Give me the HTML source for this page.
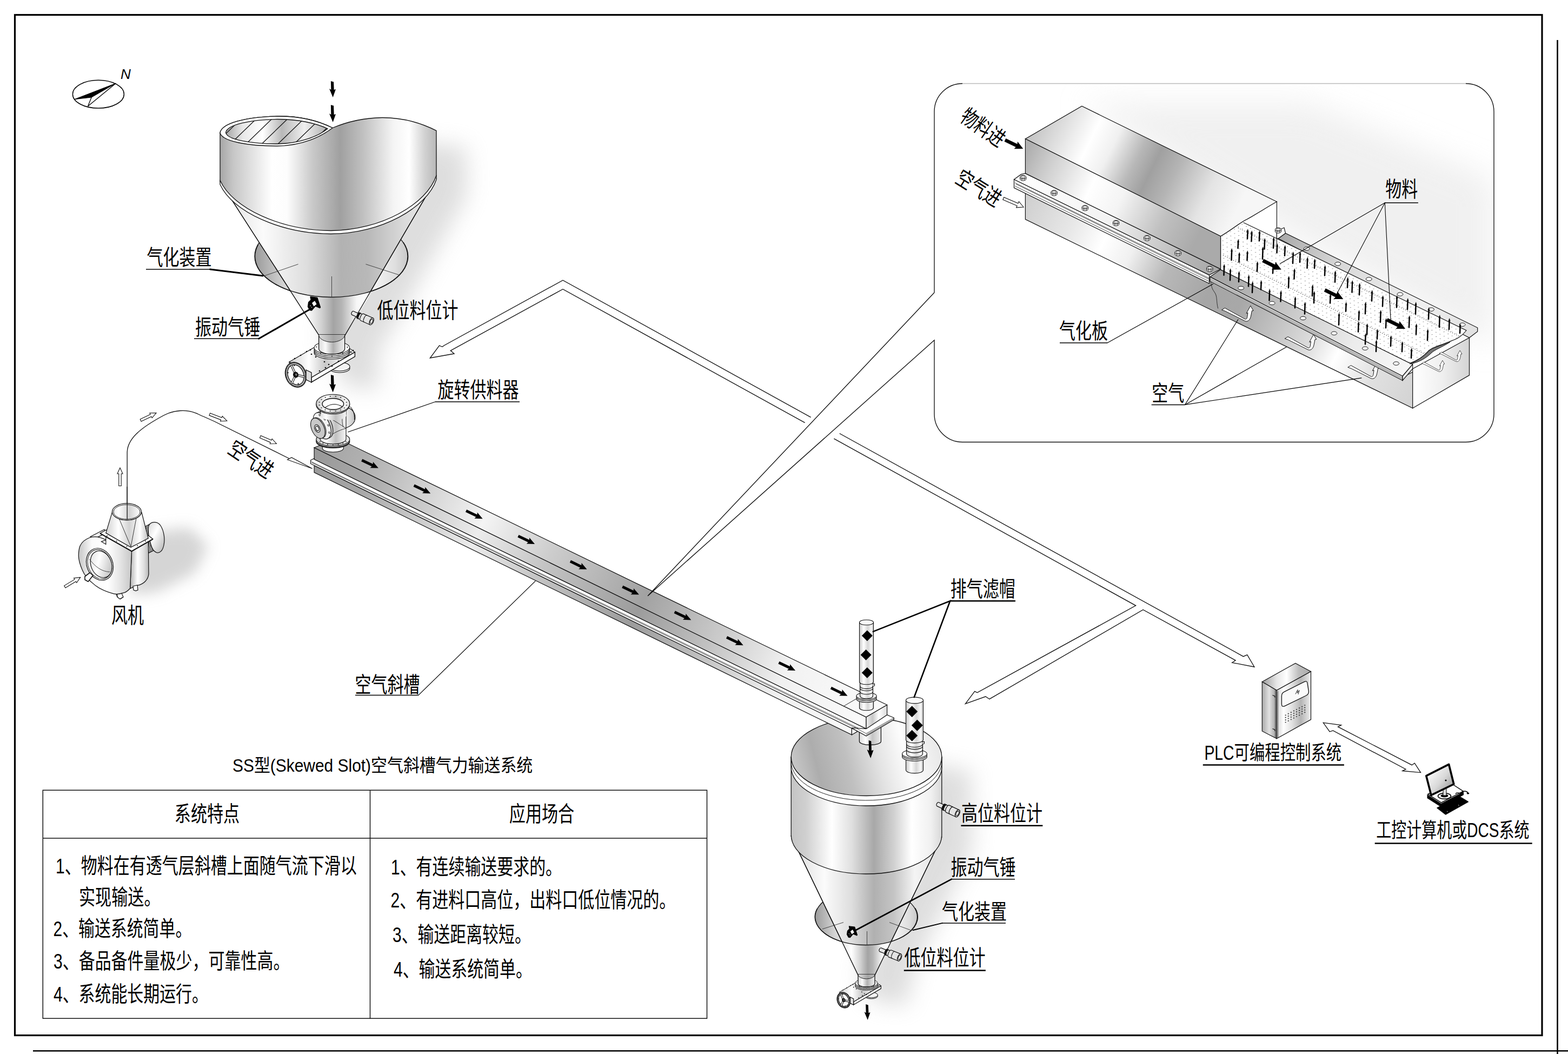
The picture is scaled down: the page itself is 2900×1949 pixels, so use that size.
<!DOCTYPE html>
<html lang="zh"><head><meta charset="utf-8"><title>SS型(Skewed Slot)空气斜槽气力输送系统</title>
<style>html,body{margin:0;padding:0;background:#fff}body{width:2900px;height:1949px;overflow:hidden;font-family:"Liberation Sans","Noto Sans CJK SC",sans-serif}svg{display:block}text{font-family:"Liberation Sans","Noto Sans CJK SC",sans-serif}</style>
</head><body>
<svg width="2900" height="1949" viewBox="0 0 2900 1949">
<defs>
<filter id="blur12" x="-40%" y="-40%" width="180%" height="180%"><feGaussianBlur stdDeviation="13"/></filter>
<filter id="blur18" x="-40%" y="-40%" width="180%" height="180%"><feGaussianBlur stdDeviation="20"/></filter>
<filter id="blur6" x="-40%" y="-40%" width="180%" height="180%"><feGaussianBlur stdDeviation="7"/></filter>
<linearGradient id="g1" x1="471" y1="0" x2="754" y2="0" gradientUnits="userSpaceOnUse"><stop offset="0" stop-color="#9a9a9a"/><stop offset="0.2" stop-color="#d6d6d6"/><stop offset="0.4" stop-color="#f2f2f2"/><stop offset="0.78" stop-color="#f4f4f4"/><stop offset="0.92" stop-color="#dedede"/><stop offset="1" stop-color="#c8c8c8"/></linearGradient>
<linearGradient id="g2" x1="407" y1="0" x2="807" y2="0" gradientUnits="userSpaceOnUse"><stop offset="0" stop-color="#dcdcdc"/><stop offset="0.2" stop-color="#fbfbfb"/><stop offset="0.4" stop-color="#dedede"/><stop offset="0.56" stop-color="#b2b2b2"/><stop offset="0.68" stop-color="#b8b8b8"/><stop offset="0.85" stop-color="#dadada"/><stop offset="1" stop-color="#f0f0f0"/></linearGradient>
<linearGradient id="g3" x1="537" y1="0" x2="690" y2="0" gradientUnits="userSpaceOnUse"><stop offset="0" stop-color="#e4e4e4"/><stop offset="0.2" stop-color="#ffffff"/><stop offset="0.38" stop-color="#d0d0d0"/><stop offset="0.52" stop-color="#a4a4a4"/><stop offset="0.62" stop-color="#b4b4b4"/><stop offset="0.8" stop-color="#f6f6f6"/><stop offset="0.92" stop-color="#ffffff"/><stop offset="1" stop-color="#d4d4d4"/></linearGradient>
<linearGradient id="g4" x1="535" y1="0" x2="656" y2="0" gradientUnits="userSpaceOnUse"><stop offset="0" stop-color="#d0d0d0"/><stop offset="0.3" stop-color="#ffffff"/><stop offset="0.55" stop-color="#c9c9c9"/><stop offset="0.8" stop-color="#f4f4f4"/><stop offset="1" stop-color="#d8d8d8"/></linearGradient>
<linearGradient id="g5" x1="590" y1="0" x2="638" y2="0" gradientUnits="userSpaceOnUse"><stop offset="0" stop-color="#dadada"/><stop offset="0.25" stop-color="#fafafa"/><stop offset="0.55" stop-color="#b0b0b0"/><stop offset="0.8" stop-color="#d8d8d8"/><stop offset="1" stop-color="#eeeeee"/></linearGradient>
<linearGradient id="g6" x1="407" y1="0" x2="807" y2="0" gradientUnits="userSpaceOnUse"><stop offset="0" stop-color="#a6a6a6"/><stop offset="0.06" stop-color="#c6c6c6"/><stop offset="0.24" stop-color="#ffffff"/><stop offset="0.31" stop-color="#fdfdfd"/><stop offset="0.43" stop-color="#c8c8c8"/><stop offset="0.555" stop-color="#a0a0a0"/><stop offset="0.66" stop-color="#c0c0c0"/><stop offset="0.8" stop-color="#f4f4f4"/><stop offset="0.875" stop-color="#ffffff"/><stop offset="0.945" stop-color="#d2d2d2"/><stop offset="1" stop-color="#b8b8b8"/></linearGradient>
<linearGradient id="g7" x1="407" y1="0" x2="615" y2="0" gradientUnits="userSpaceOnUse"><stop offset="0" stop-color="#8e8e8e"/><stop offset="0.2" stop-color="#e8e8e8"/><stop offset="0.38" stop-color="#ffffff"/><stop offset="0.55" stop-color="#b8b8b8"/><stop offset="0.75" stop-color="#f0f0f0"/><stop offset="1" stop-color="#a0a0a0"/></linearGradient>
<clipPath id="hopen"><path d="M417.5 245 C420 231 462 221 513 220.5 C552 220.5 585 228 606 238 C590 251 556 265.5 513 266 C464 266 419 258 417.5 245Z"/></clipPath>
<linearGradient id="g8" x1="0" y1="0" x2="1" y2="1"><stop offset="0" stop-color="#d8d8d8"/><stop offset="0.4" stop-color="#ffffff"/><stop offset="1" stop-color="#b0b0b0"/></linearGradient>
<linearGradient id="g9" x1="243" y1="0" x2="276" y2="0" gradientUnits="userSpaceOnUse"><stop offset="0" stop-color="#c0c0c0"/><stop offset="0.35" stop-color="#ffffff"/><stop offset="0.7" stop-color="#e0e0e0"/><stop offset="1" stop-color="#b4b4b4"/></linearGradient>
<linearGradient id="g10" x1="145" y1="0" x2="244" y2="0" gradientUnits="userSpaceOnUse"><stop offset="0" stop-color="#c4c4c4"/><stop offset="0.25" stop-color="#fafafa"/><stop offset="0.55" stop-color="#ffffff"/><stop offset="0.8" stop-color="#e2e2e2"/><stop offset="1" stop-color="#c6c6c6"/></linearGradient>
<linearGradient id="g11" x1="195" y1="0" x2="275" y2="0" gradientUnits="userSpaceOnUse"><stop offset="0" stop-color="#cfcfcf"/><stop offset="0.3" stop-color="#ffffff"/><stop offset="0.55" stop-color="#d2d2d2"/><stop offset="0.8" stop-color="#ffffff"/><stop offset="1" stop-color="#bcbcbc"/></linearGradient>
<linearGradient id="g12" x1="1507" y1="0" x2="1697" y2="0" gradientUnits="userSpaceOnUse"><stop offset="0" stop-color="#9a9a9a"/><stop offset="0.2" stop-color="#d6d6d6"/><stop offset="0.4" stop-color="#f2f2f2"/><stop offset="0.78" stop-color="#f4f4f4"/><stop offset="0.92" stop-color="#dedede"/><stop offset="1" stop-color="#c8c8c8"/></linearGradient>
<linearGradient id="g13" x1="1463.2" y1="0" x2="1741.8" y2="0" gradientUnits="userSpaceOnUse"><stop offset="0" stop-color="#d8d8d8"/><stop offset="0.22" stop-color="#fbfbfb"/><stop offset="0.4" stop-color="#dedede"/><stop offset="0.55" stop-color="#b0b0b0"/><stop offset="0.68" stop-color="#c4c4c4"/><stop offset="0.82" stop-color="#f4f4f4"/><stop offset="1" stop-color="#e0e0e0"/></linearGradient>
<linearGradient id="g14" x1="1556" y1="0" x2="1650" y2="0" gradientUnits="userSpaceOnUse"><stop offset="0" stop-color="#e4e4e4"/><stop offset="0.2" stop-color="#ffffff"/><stop offset="0.38" stop-color="#d0d0d0"/><stop offset="0.52" stop-color="#a4a4a4"/><stop offset="0.62" stop-color="#b4b4b4"/><stop offset="0.8" stop-color="#f6f6f6"/><stop offset="0.92" stop-color="#ffffff"/><stop offset="1" stop-color="#d4d4d4"/></linearGradient>
<linearGradient id="g15" x1="535" y1="0" x2="656" y2="0" gradientUnits="userSpaceOnUse"><stop offset="0" stop-color="#d0d0d0"/><stop offset="0.3" stop-color="#ffffff"/><stop offset="0.55" stop-color="#c9c9c9"/><stop offset="0.8" stop-color="#f4f4f4"/><stop offset="1" stop-color="#d8d8d8"/></linearGradient>
<linearGradient id="g16" x1="1587" y1="0" x2="1618" y2="0" gradientUnits="userSpaceOnUse"><stop offset="0" stop-color="#dadada"/><stop offset="0.25" stop-color="#fafafa"/><stop offset="0.55" stop-color="#b0b0b0"/><stop offset="0.8" stop-color="#d8d8d8"/><stop offset="1" stop-color="#eeeeee"/></linearGradient>
<linearGradient id="g17" x1="1463.2" y1="0" x2="1741.8" y2="0" gradientUnits="userSpaceOnUse"><stop offset="0" stop-color="#c4c4c4"/><stop offset="0.1" stop-color="#d0d0d0"/><stop offset="0.27" stop-color="#ffffff"/><stop offset="0.4" stop-color="#e0e0e0"/><stop offset="0.55" stop-color="#a8a8a8"/><stop offset="0.68" stop-color="#d0d0d0"/><stop offset="0.8" stop-color="#ffffff"/><stop offset="0.93" stop-color="#f0f0f0"/><stop offset="1" stop-color="#d8d8d8"/></linearGradient>
<linearGradient id="g18" x1="1463.2" y1="1440" x2="1741.8" y2="1370" gradientUnits="userSpaceOnUse"><stop offset="0" stop-color="#cdcdcd"/><stop offset="0.18" stop-color="#adadad"/><stop offset="0.38" stop-color="#c0c0c0"/><stop offset="0.58" stop-color="#e4e4e4"/><stop offset="0.75" stop-color="#fcfcfc"/><stop offset="1" stop-color="#e6e6e6"/></linearGradient>
<linearGradient id="g19" x1="1589" y1="0" x2="1630" y2="0" gradientUnits="userSpaceOnUse"><stop offset="0" stop-color="#dcdcdc"/><stop offset="0.3" stop-color="#ffffff"/><stop offset="0.6" stop-color="#c4c4c4"/><stop offset="1" stop-color="#eeeeee"/></linearGradient>
<linearGradient id="g20" x1="581" y1="828" x2="1602" y2="1326" gradientUnits="userSpaceOnUse"><stop offset="0" stop-color="#a2a2a2"/><stop offset="0.1" stop-color="#b4b4b4"/><stop offset="0.3" stop-color="#f4f4f4"/><stop offset="0.42" stop-color="#cdcdcd"/><stop offset="0.59" stop-color="#a2a2a2"/><stop offset="0.7" stop-color="#c2c2c2"/><stop offset="0.85" stop-color="#f2f2f2"/><stop offset="1" stop-color="#fafafa"/></linearGradient>
<linearGradient id="g21" x1="581" y1="828" x2="1602" y2="1326" gradientUnits="userSpaceOnUse"><stop offset="0" stop-color="#989898"/><stop offset="0.1" stop-color="#a8a8a8"/><stop offset="0.3" stop-color="#ececec"/><stop offset="0.42" stop-color="#c4c4c4"/><stop offset="0.59" stop-color="#9c9c9c"/><stop offset="0.7" stop-color="#bcbcbc"/><stop offset="0.85" stop-color="#f0f0f0"/><stop offset="1" stop-color="#fafafa"/></linearGradient>
<linearGradient id="g22" x1="1602" y1="0" x2="1641" y2="0" gradientUnits="userSpaceOnUse"><stop offset="0" stop-color="#f0f0f0"/><stop offset="0.3" stop-color="#c8c8c8"/><stop offset="0.6" stop-color="#ffffff"/><stop offset="1" stop-color="#d8d8d8"/></linearGradient>
<linearGradient id="g23" x1="585" y1="0" x2="657" y2="0" gradientUnits="userSpaceOnUse"><stop offset="0" stop-color="#c8c8c8"/><stop offset="0.25" stop-color="#ffffff"/><stop offset="0.5" stop-color="#c0c0c0"/><stop offset="0.75" stop-color="#f4f4f4"/><stop offset="1" stop-color="#bdbdbd"/></linearGradient>
<linearGradient id="g24" x1="1589.5" y1="0" x2="1615.5" y2="0" gradientUnits="userSpaceOnUse"><stop offset="0" stop-color="#c8c8c8"/><stop offset="0.3" stop-color="#ffffff"/><stop offset="0.6" stop-color="#d6d6d6"/><stop offset="0.85" stop-color="#f8f8f8"/><stop offset="1" stop-color="#c0c0c0"/></linearGradient>
<linearGradient id="g25" x1="1675.5" y1="0" x2="1707.5" y2="0" gradientUnits="userSpaceOnUse"><stop offset="0" stop-color="#c8c8c8"/><stop offset="0.3" stop-color="#ffffff"/><stop offset="0.6" stop-color="#d6d6d6"/><stop offset="0.85" stop-color="#f8f8f8"/><stop offset="1" stop-color="#c0c0c0"/></linearGradient>
<filter id="blur30" x="-30%" y="-30%" width="160%" height="160%"><feGaussianBlur stdDeviation="28"/></filter>
<clipPath id="insetclip"><rect x="1729" y="155.5" width="1033" height="661" rx="51"/></clipPath>
<linearGradient id="g26" x1="1896" y1="380" x2="2612.935483870968" y2="731.2983870967741" gradientUnits="userSpaceOnUse"><stop offset="0" stop-color="#d0d0d0"/><stop offset="0.12" stop-color="#e8e8e8"/><stop offset="0.2" stop-color="#ffffff"/><stop offset="0.27" stop-color="#f0f0f0"/><stop offset="0.36" stop-color="#b8b8b8"/><stop offset="0.47" stop-color="#a6a6a6"/><stop offset="0.55" stop-color="#a8a8a8"/><stop offset="0.65" stop-color="#c4c4c4"/><stop offset="0.73" stop-color="#dcdcdc"/><stop offset="0.8" stop-color="#ffffff"/><stop offset="0.9" stop-color="#e0e0e0"/><stop offset="1" stop-color="#d4d4d4"/></linearGradient>
<linearGradient id="g27" x1="2613" y1="0" x2="2718" y2="0" gradientUnits="userSpaceOnUse"><stop offset="0" stop-color="#ffffff"/><stop offset="0.5" stop-color="#f0f0f0"/><stop offset="1" stop-color="#d4d4d4"/></linearGradient>
<linearGradient id="g28" x1="1875" y1="335" x2="2258.064516129032" y2="522.7016129032259" gradientUnits="userSpaceOnUse"><stop offset="0" stop-color="#ffffff"/><stop offset="0.45" stop-color="#f2f2f2"/><stop offset="0.8" stop-color="#b8b8b8"/><stop offset="1" stop-color="#a4a4a4"/></linearGradient>
<linearGradient id="g29" x1="2237" y1="515" x2="2612.8064516129034" y2="699.1451612903226" gradientUnits="userSpaceOnUse"><stop offset="0" stop-color="#a2a2a2"/><stop offset="0.35" stop-color="#c4c4c4"/><stop offset="0.7" stop-color="#ececec"/><stop offset="1" stop-color="#f8f8f8"/></linearGradient>
<linearGradient id="g30" x1="2364" y1="436" x2="2733.3548387096776" y2="616.983870967742" gradientUnits="userSpaceOnUse"><stop offset="0" stop-color="#a8a8a8"/><stop offset="0.3" stop-color="#d8d8d8"/><stop offset="0.7" stop-color="#f0f0f0"/><stop offset="1" stop-color="#e0e0e0"/></linearGradient>
<linearGradient id="g31" x1="1896" y1="240" x2="2271.0" y2="423.75" gradientUnits="userSpaceOnUse"><stop offset="0" stop-color="#bdbdbd"/><stop offset="0.1" stop-color="#d4d4d4"/><stop offset="0.28" stop-color="#ffffff"/><stop offset="0.38" stop-color="#f0f0f0"/><stop offset="0.5" stop-color="#b8b8b8"/><stop offset="0.58" stop-color="#a0a0a0"/><stop offset="0.68" stop-color="#b4b4b4"/><stop offset="0.85" stop-color="#e4e4e4"/><stop offset="1" stop-color="#f6f6f6"/></linearGradient>
<linearGradient id="g32" x1="1896" y1="290" x2="2212.1290322580644" y2="444.9032258064516" gradientUnits="userSpaceOnUse"><stop offset="0" stop-color="#b0b0b0"/><stop offset="0.12" stop-color="#cccccc"/><stop offset="0.38" stop-color="#ffffff"/><stop offset="0.55" stop-color="#f4f4f4"/><stop offset="0.8" stop-color="#c0c0c0"/><stop offset="1" stop-color="#aaaaaa"/></linearGradient>
<clipPath id="matclip"><path d="M2257.5 436.8 C2280 424 2295 410 2306.6 405.2 C2330 392 2345 382 2361.4 373 L2361.4 441 L2712 611 C2700 626 2690 628 2680 632 C2660 640 2650 642 2643 648 C2632 660 2620 668 2607.6 671.5 L2257.5 498.6Z"/></clipPath>
<pattern id="matdots" width="7.6" height="7.6" patternUnits="userSpaceOnUse" patternTransform="matrix(1 0.49 0.95 -0.58 2262 494)"><circle cx="1" cy="1" r="0.62" fill="#444"/></pattern>
<linearGradient id="g33" x1="2334" y1="0" x2="2425" y2="0" gradientUnits="userSpaceOnUse"><stop offset="0" stop-color="#9a9a9a"/><stop offset="0.3" stop-color="#e6e6e6"/><stop offset="0.5" stop-color="#ffffff"/><stop offset="0.75" stop-color="#bdbdbd"/><stop offset="1" stop-color="#a8a8a8"/></linearGradient>
<linearGradient id="g34" x1="2334" y1="0" x2="2361" y2="0" gradientUnits="userSpaceOnUse"><stop offset="0" stop-color="#a8a8a8"/><stop offset="0.5" stop-color="#e2e2e2"/><stop offset="1" stop-color="#9c9c9c"/></linearGradient>
<linearGradient id="g35" x1="2361" y1="0" x2="2425" y2="0" gradientUnits="userSpaceOnUse"><stop offset="0" stop-color="#d0d0d0"/><stop offset="0.2" stop-color="#ffffff"/><stop offset="0.45" stop-color="#e0e0e0"/><stop offset="0.7" stop-color="#b4b4b4"/><stop offset="0.88" stop-color="#d8d8d8"/><stop offset="1" stop-color="#f0f0f0"/></linearGradient>
<linearGradient id="g36" x1="2640" y1="1425" x2="2690" y2="1465" gradientUnits="userSpaceOnUse"><stop offset="0" stop-color="#ffffff"/><stop offset="0.5" stop-color="#d8d8d8"/><stop offset="1" stop-color="#8a8a8a"/></linearGradient>
</defs>
<rect width="2900" height="1949" fill="#fff"/>
<rect x="27.5" y="27.5" width="2824.5" height="1887" fill="none" stroke="#000" stroke-width="3.2"/>
<line x1="2880.5" y1="74" x2="2880.5" y2="1949" stroke="#000" stroke-width="2.6"/>
<line x1="61" y1="1943.2" x2="2900" y2="1943.2" stroke="#000" stroke-width="2.6"/>
<g fill="none" stroke="#111" stroke-width="1.5"><rect x="79.3" y="1461.2" width="1228.2" height="422"/><line x1="79.3" y1="1550" x2="1307.5" y2="1550"/><line x1="684.5" y1="1461.2" x2="684.5" y2="1883.2"/></g>
<text x="430.0" y="1426.5" font-size="33.5" text-anchor="start" textLength="555.3" lengthAdjust="spacingAndGlyphs" fill="#000">SS型(Skewed Slot)空气斜槽气力输送系统</text>
<text x="383.0" y="1518.5" font-size="39.5" text-anchor="middle" textLength="120.4" lengthAdjust="spacingAndGlyphs" fill="#000">系统特点</text>
<text x="1002.0" y="1518.5" font-size="39.5" text-anchor="middle" textLength="120.4" lengthAdjust="spacingAndGlyphs" fill="#000">应用场合</text>
<text x="103.0" y="1615.0" font-size="39.5" text-anchor="start" textLength="556.8" lengthAdjust="spacingAndGlyphs" fill="#000">1、物料在有透气层斜槽上面随气流下滑以</text>
<text x="146.0" y="1673.0" font-size="39.5" text-anchor="start" textLength="150.5" lengthAdjust="spacingAndGlyphs" fill="#000">实现输送。</text>
<text x="98.5" y="1730.5" font-size="39.5" text-anchor="start" textLength="255.8" lengthAdjust="spacingAndGlyphs" fill="#000">2、输送系统简单。</text>
<text x="99.0" y="1791.0" font-size="39.5" text-anchor="start" textLength="436.4" lengthAdjust="spacingAndGlyphs" fill="#000">3、备品备件量极少，可靠性高。</text>
<text x="99.0" y="1852.0" font-size="39.5" text-anchor="start" textLength="285.9" lengthAdjust="spacingAndGlyphs" fill="#000">4、系统能长期运行。</text>
<text x="723.0" y="1617.0" font-size="39.5" text-anchor="start" textLength="316.0" lengthAdjust="spacingAndGlyphs" fill="#000">1、有连续输送要求的。</text>
<text x="722.5" y="1678.0" font-size="39.5" text-anchor="start" textLength="526.7" lengthAdjust="spacingAndGlyphs" fill="#000">2、有进料口高位，出料口低位情况的。</text>
<text x="726.0" y="1742.0" font-size="39.5" text-anchor="start" textLength="255.8" lengthAdjust="spacingAndGlyphs" fill="#000">3、输送距离较短。</text>
<text x="728.0" y="1806.0" font-size="39.5" text-anchor="start" textLength="255.8" lengthAdjust="spacingAndGlyphs" fill="#000">4、输送系统简单。</text>
<path d="M760 262 L862 272 L864 360 L745 575 L700 650 L700 720 L640 715 L600 640 L600 600 L760 340Z" fill="#b8b8b8" filter="url(#blur18)" opacity="0.46"/>
<ellipse cx="612.5" cy="474" rx="141.5" ry="75.5" fill="url(#g1)" stroke="#111" stroke-width="1.3"/>
<path d="M407 336 L590 620 L638 620 L807 330 Z" fill="url(#g2)" stroke="#111" stroke-width="1.3"/>
<path d="M536.5 537.5 A141.5 75.5 0 0 0 612.5 549.5 A141.5 75.5 0 0 0 689.5 537 L638 620 L590 620 Z" fill="url(#g3)"/>
<path d="M407 336 L590 620 M638 620 L807 330" fill="none" stroke="#111" stroke-width="1.3"/>
<path d="M477.5 452.5 A141.5 75.5 0 0 0 612.5 549.5 A141.5 75.5 0 0 0 746 448" fill="none" stroke="#111" stroke-width="1.3"/>
<g stroke="#333" stroke-width="0.9" fill="none"><path d="M489 510 L551.5 488.5"/><path d="M676.5 488.5 L740 509"/><path d="M613.5 511 L613.5 549.5"/></g>
<g transform="translate(0,0) scale(1.0)"><ellipse cx="628" cy="681" rx="19" ry="8" fill="#e8e8e8" stroke="#111" stroke-width="1.1"/><ellipse cx="628" cy="678" rx="19" ry="8" fill="#f4f4f4" stroke="#111" stroke-width="1.1"/><path d="M535 669.3 L615.4 622.4 L656.4 651.1 L576 698Z" fill="url(#g4)" stroke="#111" stroke-width="1.1"/><path d="M576 698 L656.4 651.1 L656.4 659.3 L576 706.7Z" fill="#fff" stroke="#111" stroke-width="1.4"/><path d="M535 669.3 L576 698 L576 706.7 L569 703 L569 700 L535 676Z" fill="#eee" stroke="#111" stroke-width="1.1"/><g fill="#111"><circle cx="545" cy="663" r="1.35"/><circle cx="556" cy="657" r="1.35"/><circle cx="567" cy="650" r="1.35"/><circle cx="574" cy="647" r="1.35"/><circle cx="576" cy="655" r="1.35"/><circle cx="584" cy="660" r="1.35"/><circle cx="600" cy="669" r="1.35"/><circle cx="608" cy="674" r="1.35"/><circle cx="614" cy="677" r="1.35"/><circle cx="602" cy="680" r="1.35"/><circle cx="591" cy="686" r="1.35"/><circle cx="575" cy="694" r="1.35"/><circle cx="572" cy="691" r="1.35"/><circle cx="649" cy="651" r="1.35"/><circle cx="653" cy="648" r="1.35"/><circle cx="626" cy="668" r="1.35"/></g><ellipse cx="613.8" cy="652" rx="32.8" ry="12" fill="#f2f2f2" stroke="#111" stroke-width="1.1"/><ellipse cx="613.8" cy="649" rx="32.8" ry="12" fill="#f6f6f6" stroke="#111" stroke-width="1.1"/><ellipse cx="613.8" cy="646" rx="32.8" ry="12" fill="#fafafa" stroke="#111" stroke-width="1.1"/><ellipse cx="613.8" cy="643" rx="32.8" ry="12" fill="#ffffff" stroke="#111" stroke-width="1.1"/><g fill="#111"><circle cx="585" cy="641.5" r="1"/><circle cx="593" cy="653" r="1"/><circle cx="614" cy="658.5" r="1"/><circle cx="634" cy="653.5" r="1"/><circle cx="642.5" cy="642" r="1"/></g><g transform="translate(547 693) rotate(-22)"><ellipse rx="18.6" ry="23.4" fill="#fff" stroke="#111" stroke-width="1.7"/><ellipse rx="17" ry="21.8" fill="none" stroke="#111" stroke-width="0.8"/><ellipse rx="14.6" ry="19.4" fill="#fff" stroke="#111" stroke-width="1.5"/><path d="M0 0 L-1 -19.5 M0 0 L-13.5 12.5 M0 0 L14 10" stroke="#111" stroke-width="4" fill="none"/><path d="M0 0 L-1 -19 M0 0 L-13 12 M0 0 L13.5 9.6" stroke="#fff" stroke-width="1.8" fill="none"/><ellipse rx="5" ry="5.6" fill="#111"/><ellipse cx="0.8" cy="0" rx="1.8" ry="2.1" fill="#777"/><g fill="#111"><circle cx="-12" cy="-9" r="1.2"/><circle cx="4" cy="-17" r="1.2"/><circle cx="-2" cy="17" r="1.2"/></g></g><path d="M566 684 L576 689 L576 707 L566 702Z" fill="#ddd" stroke="#111" stroke-width="1.3"/></g>
<path d="M589.6 619 L589.6 645 A24 10 0 0 0 637.6 645 L637.6 619 Z" fill="url(#g5)" stroke="#111" stroke-width="1.3"/>
<path d="M589.6 619 A24 13.5 0 0 0 637.6 619" fill="url(#g3)" stroke="#222" stroke-width="1"/>
<g transform="translate(581,566) scale(1.15)"><path d="M-6 -15 L5 -13.5 L10 2 L9 3 L2 0 L-4 7 L-7 6.5 L-10 1 L-9 -6 L-5 -10 Z" fill="#000" stroke="#000" stroke-width="1.2" stroke-linejoin="round"/><path d="M-3.5 -5 L1 -8.5 L4 -3 L-0.5 0.5Z" fill="#fff"/><circle cx="-6" cy="-0.5" r="0.8" fill="#bbb"/><circle cx="-4" cy="2" r="0.8" fill="#bbb"/></g>
<g transform="translate(650.5,578) rotate(24) scale(1.0)"><path d="M2 -3.6 L14 -3.6 L14 3.6 L2 3.6 A2.2 3.6 0 0 1 2 -3.6Z" fill="#e6e6e6" stroke="#111" stroke-width="1.2"/><path d="M13 -6.2 L16.5 -6.2 L16.5 6.2 L13 6.2 A2.6 6.2 0 0 1 13 -6.2Z" fill="#111"/><path d="M16.5 -5.2 L22 -5.2 L22 5.2 L16.5 5.2 A2.2 5.2 0 0 1 16.5 -5.2Z" fill="#e0e0e0" stroke="#111" stroke-width="1.2"/><path d="M21 -6.8 L40 -6.8 A3.4 6.8 0 0 1 40 6.8 L21 6.8 A3 6.8 0 0 1 21 -6.8Z" fill="#e4e4e4" stroke="#111" stroke-width="1.2"/><path d="M28 -6.8 A3 6.8 0 0 0 28 6.8" fill="none" stroke="#111" stroke-width="1.2"/><ellipse cx="40" cy="0" rx="3.4" ry="6.8" fill="#efefef" stroke="#111" stroke-width="1.2"/><ellipse cx="40" cy="0" rx="2.1" ry="4.2" fill="#f8f8f8" stroke="#111" stroke-width="1"/></g>
<path d="M611.9 693.0 L617.1 694.5 L617.7 711.5 L621.0 710.5 L615.7 725.5 L609.0 709.5 L612.3 711.5Z" fill="#000"/>
<path d="M611.9 150.0 L617.1 151.5 L617.7 166.0 L621.0 165.0 L615.7 180.0 L609.0 164.0 L612.3 166.0Z" fill="#000"/>
<path d="M611.9 194.0 L617.1 195.5 L617.7 212.0 L621.0 211.0 L615.7 226.0 L609.0 210.0 L612.3 212.0Z" fill="#000"/>
<path d="M407 333.4 L407 341 C430 392 520 432 612 432.5 C705 432 790 384 807 332 L807 324.5 Z" fill="#fff" stroke="#111" stroke-width="1.3"/>
<path d="M407 246 C409 228 455 216 513 215 C555 214.5 590 224 615 236.5 C640 226 672 218 707 217.5 C745 217.5 780 228 807 241.6 L807 324.5 C790 377 705 426 612 426.5 C520 426 430 385 407 333.4 Z" fill="url(#g6)" stroke="#111" stroke-width="1.3"/>
<path d="M407 246 C409 228 455 216 513 215 C555 214.5 590 224 615 236.5 C595 252 560 269.5 513 270 C460 270 412 262 407 246Z" fill="#fff" stroke="#111" stroke-width="1.3"/>
<path d="M417.5 245 C420 231 462 221 513 220.5 C552 220.5 585 228 606 238 C590 251 556 265.5 513 266 C464 266 419 258 417.5 245Z" fill="url(#g7)" stroke="#111" stroke-width="1.3"/>
<g clip-path="url(#hopen)" stroke="#111" stroke-width="1.3"><path d="M392 272 L454 212"/><path d="M420 272 L482 212"/><path d="M449 272 L511 212"/><path d="M478 272 L540 212"/><path d="M508 272 L570 212"/><path d="M538 272 L600 212"/><path d="M568 272 L630 212"/></g>
<path d="M270 985 L350 975 L385 1010 L360 1060 L290 1095 L240 1100 L250 1040Z" fill="#c8c8c8" filter="url(#blur12)" opacity="0.75"/>
<path d="M235.2 960 L235.2 836 C236 812 258 792 303 768 C320 759 345 755 367 766 C380 772 392 777 399 780.5 L535 848" fill="none" stroke="#111" stroke-width="1.3"/>
<path d="M531.4 850 L539.3 845.9 L577.6 866.6Z" fill="#fff" stroke="#111" stroke-width="1.1"/>
<path transform="translate(222.0,865.0) rotate(-90.0)" d="M0 0 L-11 -5.0 L-11 -2.25 L-33.5 -2.25 L-33.5 2.25 L-11 2.25 L-11 5.0Z" fill="#fff" stroke="#111" stroke-width="1.1" stroke-linejoin="miter"/>
<path transform="translate(289.0,763.6) rotate(-25.4)" d="M0 0 L-11 -5.0 L-11 -2.25 L-31.9 -2.25 L-31.9 2.25 L-11 2.25 L-11 5.0Z" fill="#fff" stroke="#111" stroke-width="1.1" stroke-linejoin="miter"/>
<path transform="translate(419.7,778.2) rotate(20.9)" d="M0 0 L-11 -5.0 L-11 -2.25 L-34.2 -2.25 L-34.2 2.25 L-11 2.25 L-11 5.0Z" fill="#fff" stroke="#111" stroke-width="1.1" stroke-linejoin="miter"/>
<path transform="translate(511.3,820.4) rotate(23.1)" d="M0 0 L-11 -5.0 L-11 -2.25 L-32.6 -2.25 L-32.6 2.25 L-11 2.25 L-11 5.0Z" fill="#fff" stroke="#111" stroke-width="1.1" stroke-linejoin="miter"/>
<path transform="translate(148.6,1067.6) rotate(-31.2)" d="M0 0 L-11 -5.0 L-11 -2.25 L-33.6 -2.25 L-33.6 2.25 L-11 2.25 L-11 5.0Z" fill="#fff" stroke="#111" stroke-width="1.1" stroke-linejoin="miter"/>
<path d="M266 975 L282 966.5 L296 1012 L272 1024 Z" fill="#e8e8e8" stroke="#111" stroke-width="1.2"/>
<g stroke="#111" stroke-width="1"><path d="M268.0 974.5 L273.0 1023.5"/><path d="M270.2 973.4 L275.2 1022.3"/><path d="M272.4 972.3 L277.4 1021.1"/><path d="M274.6 971.2 L279.6 1019.9"/><path d="M276.8 970.1 L281.8 1018.7"/><path d="M279.0 969.0 L284.0 1017.5"/><path d="M281.2 967.9 L286.2 1016.3"/><path d="M283.4 966.8 L288.4 1015.1"/><path d="M285.6 965.7 L290.6 1013.9"/></g>
<path d="M275 972 C279 964 291 963 297 972 C304 983 305 998 303 1008 C301 1018 296 1023 290 1022 C284 1020 280 1012 278 1003 C275 992 273 980 275 972Z" fill="url(#g8)" stroke="#111" stroke-width="1.2"/>
<path d="M243.5 1019.3 L274.3 1001 L275 1061.4 C274 1072 266 1080 254.7 1082.4 L240.7 1088 Z" fill="url(#g9)" stroke="#111" stroke-width="1.2"/>
<path d="M246 1084 L254 1082 L255 1091 L251 1092.5 L247 1091Z" fill="#fff" stroke="#111" stroke-width="1.2"/>
<path d="M211 1088 L220 1086 L228 1104 L222 1107.7 L217 1104 Z" fill="#fff" stroke="#111" stroke-width="1.2"/><path d="M217 1104 L216.5 1090 M222 1107.7 L228 1104" fill="none" stroke="#111" stroke-width="1.2"/>
<path d="M167 992.5 L193 979 L196 985.6 L175 996Z" fill="#eee" stroke="#111" stroke-width="1.2"/>
<path d="M243.5 1019.3 L240.7 1088 C236 1093 232 1096 228 1096.4 C220 1099 214 1099 209.8 1097.8 C196 1094 185 1089 176.1 1082.4 C164 1073 156 1064 152.3 1054.3 C147 1042 145 1034 145.3 1026.3 C145.5 1019 146 1014 148 1009.4 C152 1001 158 997 166.3 994 C176 991 186 993 195.8 998.5 L195.8 1006.5 L187.5 1001.5 L195.8 998.5 L195.8 992.5 L243.5 1019.3Z" fill="url(#g10)" stroke="#111" stroke-width="1.2"/>
<g transform="translate(184.5 1043.5) rotate(-22)"><ellipse rx="24" ry="30.5" fill="#f4f4f4" stroke="#111" stroke-width="1.2"/><ellipse rx="21.5" ry="28" fill="none" stroke="#111" stroke-width="0.9"/><ellipse cx="2.5" cy="1" rx="19" ry="25.5" fill="url(#g8)" stroke="#111" stroke-width="1.2"/><path d="M-14 -16 C-10 0 -2 14 12 20" fill="none" stroke="#333" stroke-width="0.8"/></g>
<path d="M157 1066 L166 1059 L172 1064 L163 1075.4 L157 1072Z" fill="#fff" stroke="#111" stroke-width="1.6"/>
<path d="M185.2 986.3 L196 980 L243.5 1006 L274 990 L282.8 996.8 L243.5 1019.3Z" fill="#fff" stroke="#111" stroke-width="1.2"/>
<path d="M207.7 946.3 L195.8 985.6 L242 1012 L274.3 995.4 L261.7 946.3 A27 15.4 0 0 1 207.7 946.3Z" fill="url(#g11)" stroke="#111" stroke-width="1.2"/>
<path d="M185.2 986.3 L243.5 1019.3 L282.8 996.8" fill="none" stroke="#111" stroke-width="2"/>
<path d="M220.3 958.9 L242 1010.8 L251.9 958.9" fill="none" stroke="#222" stroke-width="0.9"/>
<ellipse cx="234.4" cy="946.3" rx="27" ry="15.4" fill="#f0f0f0" stroke="#111" stroke-width="1.2"/><ellipse cx="234.4" cy="946.6" rx="24.5" ry="13.4" fill="url(#g11)" stroke="#111" stroke-width="0.9"/>
<path d="M235.2 900 L235.2 960.3" stroke="#111" stroke-width="1.3"/>
<g fill="#222"><circle cx="198" cy="991" r="1"/><circle cx="215.6" cy="1000.5" r="1"/><circle cx="234.5" cy="1010.5" r="1"/><circle cx="254" cy="1009" r="1"/><circle cx="269" cy="1000.5" r="1"/></g>
<path d="M1700 1410 L1796 1425 L1798 1570 L1692 1790 L1676 1860 L1610 1850 L1590 1800 L1700 1560Z" fill="#b8b8b8" filter="url(#blur18)" opacity="0.46"/>
<ellipse cx="1602" cy="1695.5" rx="94.5" ry="52" fill="url(#g12)" stroke="#111" stroke-width="1.3"/>
<path d="M1463.2 1546 L1587 1803 L1618 1803 L1741.8 1548 Z" fill="url(#g13)" stroke="#111" stroke-width="1.3"/>
<path d="M1556 1741 A94.5 52 0 0 0 1602 1747.5 A94.5 52 0 0 0 1649.5 1740.5 L1618 1803 L1587 1803 Z" fill="url(#g14)"/>
<path d="M1463.2 1546 L1587 1803 M1618 1803 L1741.8 1548" fill="none" stroke="#111" stroke-width="1.3"/>
<path d="M1511.5 1680 A94.5 52 0 0 0 1602 1747.5 A94.5 52 0 0 0 1692.5 1679" fill="none" stroke="#111" stroke-width="1.3"/>
<g stroke="#333" stroke-width="0.9" fill="none"><path d="M1520.7 1718 L1560 1705.6"/><path d="M1645 1705.6 L1684.2 1720"/><path d="M1603.5 1722 L1603.5 1747.5"/></g>
<g transform="translate(1215.806,1412.8) scale(0.63)"><ellipse cx="628" cy="681" rx="19" ry="8" fill="#e8e8e8" stroke="#111" stroke-width="1.57"/><ellipse cx="628" cy="678" rx="19" ry="8" fill="#f4f4f4" stroke="#111" stroke-width="1.57"/><path d="M535 669.3 L615.4 622.4 L656.4 651.1 L576 698Z" fill="url(#g15)" stroke="#111" stroke-width="1.57"/><path d="M576 698 L656.4 651.1 L656.4 659.3 L576 706.7Z" fill="#fff" stroke="#111" stroke-width="2.00"/><path d="M535 669.3 L576 698 L576 706.7 L569 703 L569 700 L535 676Z" fill="#eee" stroke="#111" stroke-width="1.57"/><g fill="#111"><circle cx="545" cy="663" r="1.35"/><circle cx="556" cy="657" r="1.35"/><circle cx="567" cy="650" r="1.35"/><circle cx="574" cy="647" r="1.35"/><circle cx="576" cy="655" r="1.35"/><circle cx="584" cy="660" r="1.35"/><circle cx="600" cy="669" r="1.35"/><circle cx="608" cy="674" r="1.35"/><circle cx="614" cy="677" r="1.35"/><circle cx="602" cy="680" r="1.35"/><circle cx="591" cy="686" r="1.35"/><circle cx="575" cy="694" r="1.35"/><circle cx="572" cy="691" r="1.35"/><circle cx="649" cy="651" r="1.35"/><circle cx="653" cy="648" r="1.35"/><circle cx="626" cy="668" r="1.35"/></g><ellipse cx="613.8" cy="652" rx="32.8" ry="12" fill="#f2f2f2" stroke="#111" stroke-width="1.57"/><ellipse cx="613.8" cy="649" rx="32.8" ry="12" fill="#f6f6f6" stroke="#111" stroke-width="1.57"/><ellipse cx="613.8" cy="646" rx="32.8" ry="12" fill="#fafafa" stroke="#111" stroke-width="1.57"/><ellipse cx="613.8" cy="643" rx="32.8" ry="12" fill="#ffffff" stroke="#111" stroke-width="1.57"/><g fill="#111"><circle cx="585" cy="641.5" r="1"/><circle cx="593" cy="653" r="1"/><circle cx="614" cy="658.5" r="1"/><circle cx="634" cy="653.5" r="1"/><circle cx="642.5" cy="642" r="1"/></g><g transform="translate(547 693) rotate(-22)"><ellipse rx="18.6" ry="23.4" fill="#fff" stroke="#111" stroke-width="2.43"/><ellipse rx="17" ry="21.8" fill="none" stroke="#111" stroke-width="1.14"/><ellipse rx="14.6" ry="19.4" fill="#fff" stroke="#111" stroke-width="2.14"/><path d="M0 0 L-1 -19.5 M0 0 L-13.5 12.5 M0 0 L14 10" stroke="#111" stroke-width="5.71" fill="none"/><path d="M0 0 L-1 -19 M0 0 L-13 12 M0 0 L13.5 9.6" stroke="#fff" stroke-width="2.57" fill="none"/><ellipse rx="5" ry="5.6" fill="#111"/><ellipse cx="0.8" cy="0" rx="1.8" ry="2.1" fill="#777"/><g fill="#111"><circle cx="-12" cy="-9" r="1.2"/><circle cx="4" cy="-17" r="1.2"/><circle cx="-2" cy="17" r="1.2"/></g></g><path d="M566 684 L576 689 L576 707 L566 702Z" fill="#ddd" stroke="#111" stroke-width="1.86"/></g>
<path d="M1587 1802 L1587 1819 A15.5 6 0 0 0 1618 1819 L1618 1802 Z" fill="url(#g16)" stroke="#111" stroke-width="1.3"/>
<path d="M1587 1802 A15.5 8 0 0 0 1618 1802" fill="url(#g14)" stroke="#222" stroke-width="1"/>
<g transform="translate(1576,1727) scale(0.95)"><path d="M-6 -15 L5 -13.5 L10 2 L9 3 L2 0 L-4 7 L-7 6.5 L-10 1 L-9 -6 L-5 -10 Z" fill="#000" stroke="#000" stroke-width="1.2" stroke-linejoin="round"/><path d="M-3.5 -5 L1 -8.5 L4 -3 L-0.5 0.5Z" fill="#fff"/><circle cx="-6" cy="-0.5" r="0.8" fill="#bbb"/><circle cx="-4" cy="2" r="0.8" fill="#bbb"/></g>
<g transform="translate(1626.5,1755.5) rotate(22) scale(1.0)"><path d="M2 -3.6 L14 -3.6 L14 3.6 L2 3.6 A2.2 3.6 0 0 1 2 -3.6Z" fill="#e6e6e6" stroke="#111" stroke-width="1.2"/><path d="M13 -6.2 L16.5 -6.2 L16.5 6.2 L13 6.2 A2.6 6.2 0 0 1 13 -6.2Z" fill="#111"/><path d="M16.5 -5.2 L22 -5.2 L22 5.2 L16.5 5.2 A2.2 5.2 0 0 1 16.5 -5.2Z" fill="#e0e0e0" stroke="#111" stroke-width="1.2"/><path d="M21 -6.8 L40 -6.8 A3.4 6.8 0 0 1 40 6.8 L21 6.8 A3 6.8 0 0 1 21 -6.8Z" fill="#e4e4e4" stroke="#111" stroke-width="1.2"/><path d="M28 -6.8 A3 6.8 0 0 0 28 6.8" fill="none" stroke="#111" stroke-width="1.2"/><ellipse cx="40" cy="0" rx="3.4" ry="6.8" fill="#efefef" stroke="#111" stroke-width="1.2"/><ellipse cx="40" cy="0" rx="2.1" ry="4.2" fill="#f8f8f8" stroke="#111" stroke-width="1"/></g>
<path d="M1601.2 1857.0 L1605.8 1858.5 L1606.4 1873.0 L1609.5 1872.0 L1604.7 1886.0 L1598.5 1871.0 L1601.6 1873.0Z" fill="#000"/>
<path d="M1463.2 1400 L1463.2 1543 A139.3 72 0 0 0 1741.8 1545 L1741.8 1400 Z" fill="url(#g17)" stroke="#111" stroke-width="1.3"/>
<path d="M1463.2 1400 L1463.2 1417 A139.3 72 0 0 0 1741.8 1419 L1741.8 1400 Z" fill="#fff" stroke="#111" stroke-width="1.3"/>
<path d="M1463.2 1407 A139.3 72 0 0 0 1741.8 1409" fill="none" stroke="#222" stroke-width="1"/>
<ellipse cx="1602.5" cy="1399.5" rx="139.3" ry="72" fill="url(#g18)" stroke="#111" stroke-width="1.3"/>
<g transform="translate(1732.7,1486.3) rotate(25) scale(1.05)"><path d="M2 -3.6 L14 -3.6 L14 3.6 L2 3.6 A2.2 3.6 0 0 1 2 -3.6Z" fill="#e6e6e6" stroke="#111" stroke-width="1.2"/><path d="M13 -6.2 L16.5 -6.2 L16.5 6.2 L13 6.2 A2.6 6.2 0 0 1 13 -6.2Z" fill="#111"/><path d="M16.5 -5.2 L22 -5.2 L22 5.2 L16.5 5.2 A2.2 5.2 0 0 1 16.5 -5.2Z" fill="#e0e0e0" stroke="#111" stroke-width="1.2"/><path d="M21 -6.8 L40 -6.8 A3.4 6.8 0 0 1 40 6.8 L21 6.8 A3 6.8 0 0 1 21 -6.8Z" fill="#e4e4e4" stroke="#111" stroke-width="1.2"/><path d="M28 -6.8 A3 6.8 0 0 0 28 6.8" fill="none" stroke="#111" stroke-width="1.2"/><ellipse cx="40" cy="0" rx="3.4" ry="6.8" fill="#efefef" stroke="#111" stroke-width="1.2"/><ellipse cx="40" cy="0" rx="2.1" ry="4.2" fill="#f8f8f8" stroke="#111" stroke-width="1"/></g>
<path d="M1589.4 1340 L1589.4 1371 A20 6.5 0 0 0 1629.4 1371 L1629.4 1340Z" fill="url(#g19)" stroke="#111" stroke-width="1.3"/>
<path d="M1606.7 1369.0 L1611.3 1370.5 L1611.9 1388.0 L1615.5 1387.0 L1610.2 1402.0 L1603.5 1386.0 L1607.1 1388.0Z" fill="#000"/>
<path d="M581.1 861 L1575.4 1346.2 L1575.4 1358.8 L581.1 873.6Z" fill="url(#g21)" stroke="#111" stroke-width="1.2"/>
<path d="M1575.4 1346.2 L1585.4 1341.2 L1585.4 1352.8 L1575.4 1358.8Z" fill="#fff" stroke="#111" stroke-width="1.2"/>
<path d="M581.1 827.7 L1602.0 1326 L1602.0 1347.7 L581.1 849.5Z" fill="url(#g21)" stroke="#111" stroke-width="1.2"/>
<path d="M581.1 827.7 L624.4 810.8 L1640.6 1303.5 L1602.0 1326Z" fill="url(#g20)" stroke="#111" stroke-width="1.2"/>
<path d="M1602.0 1326 L1640.6 1303.5 L1640.6 1325.2 L1602.0 1347.7Z" fill="url(#g22)" stroke="#111" stroke-width="1.2"/>
<path d="M1560.5 1305.7 L1599 1283.3" fill="none" stroke="#222" stroke-width="1"/>
<path d="M574.6 851 L574.6 857.5 L1602.0 1359.7 L1602.0 1347.7 L581.1 849.5 L581.1 847.8Z" fill="#fff" stroke="#111" stroke-width="1.2"/>
<path d="M575.6 853.6 L1602.0 1353.7 M576.6 855.4 L1602.0 1355.7" fill="none" stroke="#222" stroke-width="0.8"/>
<path d="M1575 1346 L1602.0 1361 L1653.3 1331 L1653.3 1327.3 L1640.6 1322 L1602.0 1347.7 Z" fill="#fff" stroke="#111" stroke-width="1.2"/>
<path d="M1602.0 1356.5 L1653.3 1327.3 M1602.0 1358.8 L1653.3 1329.3 M1602.0 1356.5 L1580 1344.5" fill="none" stroke="#222" stroke-width="0.8"/>
<path transform="translate(699.9,865.6) rotate(25.6)" d="M0 0 L-14 -6.25 L-12.5 -2.5 L-34 -2.5 L-34 2.5 L-12.5 2.5 L-14 6.25Z" fill="#000"/>
<path transform="translate(796.3,912.4) rotate(25.6)" d="M0 0 L-14 -6.25 L-12.5 -2.5 L-34 -2.5 L-34 2.5 L-12.5 2.5 L-14 6.25Z" fill="#000"/>
<path transform="translate(892.7,959.2) rotate(25.6)" d="M0 0 L-14 -6.25 L-12.5 -2.5 L-34 -2.5 L-34 2.5 L-12.5 2.5 L-14 6.25Z" fill="#000"/>
<path transform="translate(989.1,1006.0) rotate(25.6)" d="M0 0 L-14 -6.25 L-12.5 -2.5 L-34 -2.5 L-34 2.5 L-12.5 2.5 L-14 6.25Z" fill="#000"/>
<path transform="translate(1085.5,1052.8) rotate(25.6)" d="M0 0 L-14 -6.25 L-12.5 -2.5 L-34 -2.5 L-34 2.5 L-12.5 2.5 L-14 6.25Z" fill="#000"/>
<path transform="translate(1181.9,1099.6) rotate(25.6)" d="M0 0 L-14 -6.25 L-12.5 -2.5 L-34 -2.5 L-34 2.5 L-12.5 2.5 L-14 6.25Z" fill="#000"/>
<path transform="translate(1278.3,1146.4) rotate(25.6)" d="M0 0 L-14 -6.25 L-12.5 -2.5 L-34 -2.5 L-34 2.5 L-12.5 2.5 L-14 6.25Z" fill="#000"/>
<path transform="translate(1374.7,1193.2) rotate(25.6)" d="M0 0 L-14 -6.25 L-12.5 -2.5 L-34 -2.5 L-34 2.5 L-12.5 2.5 L-14 6.25Z" fill="#000"/>
<path transform="translate(1471.1,1240.0) rotate(25.6)" d="M0 0 L-14 -6.25 L-12.5 -2.5 L-34 -2.5 L-34 2.5 L-12.5 2.5 L-14 6.25Z" fill="#000"/>
<path transform="translate(1567.5,1286.8) rotate(25.6)" d="M0 0 L-14 -6.25 L-12.5 -2.5 L-34 -2.5 L-34 2.5 L-12.5 2.5 L-14 6.25Z" fill="#000"/>
<path d="M596.3 822 L596.3 829 A19.5 7 0 0 0 635.3 829 L635.3 822Z" fill="#fff" stroke="#111" stroke-width="1.1"/><ellipse cx="615.8" cy="816.5" rx="31" ry="12" fill="#555" stroke="#111" stroke-width="1.1"/><ellipse cx="615.8" cy="814.8" rx="31" ry="12" fill="#ddd" stroke="#111" stroke-width="1.1"/><ellipse cx="615.8" cy="812.5" rx="31" ry="12" fill="url(#g23)" stroke="#111" stroke-width="1.1"/><path d="M635 758 C646 748 657 762 657 772 C657 782 650 788 638 792 Z" fill="url(#g23)" stroke="#111" stroke-width="1.1"/><path d="M648 752 C655 760 656 770 655.5 776" fill="none" stroke="#111" stroke-width="1.1"/><path d="M592 758 L592 812 A24 9 0 0 0 640 812 L640 758Z" fill="url(#g23)" stroke="#111" stroke-width="1.1"/><path d="M603 770 C620 778 630 786 640 792 M640 792 C625 796 612 803 604 812" fill="none" stroke="#222" stroke-width="0.9"/><path d="M636 758 C632 770 632 782 635 790" fill="none" stroke="#222" stroke-width="0.9"/><g transform="translate(592 789) rotate(-24)"><ellipse cx="8" cy="0" rx="14" ry="26" fill="url(#g23)" stroke="#111" stroke-width="1.1"/><ellipse cx="4" cy="0" rx="14" ry="26" fill="#f2f2f2" stroke="#111" stroke-width="1.1"/><ellipse cx="-3" cy="1" rx="11.5" ry="20" fill="#e2e2e2" stroke="#111" stroke-width="1.1"/><ellipse cx="-5" cy="1" rx="11.5" ry="20" fill="url(#g23)" stroke="#111" stroke-width="1.1"/><ellipse cx="-6" cy="1" rx="4.6" ry="7.5" fill="#f4f4f4" stroke="#111" stroke-width="1.1"/><ellipse cx="-6" cy="1" rx="2.6" ry="4.4" fill="#fff" stroke="#111" stroke-width="1.1"/><g fill="#eee" stroke="#111" stroke-width="0.8"><ellipse cx="8" cy="-20" rx="1.2" ry="1.8"/><ellipse cx="13.5" cy="-9" rx="1.2" ry="1.8"/><ellipse cx="15" cy="4" rx="1.2" ry="1.8"/><ellipse cx="11" cy="17" rx="1.2" ry="1.8"/></g></g><path d="M592.8 752 L592.8 770 A24 9 0 0 0 640 766 L640 752Z" fill="url(#g23)" stroke="none"/><path d="M592.8 752 L592.8 766 M640 752 L640 760" fill="none" stroke="#111" stroke-width="1.1"/><ellipse cx="615.8" cy="748.6" rx="31" ry="17.2" fill="#bbb" stroke="#111" stroke-width="1.1"/><ellipse cx="615.8" cy="746.4" rx="31" ry="17.2" fill="url(#g23)" stroke="#111" stroke-width="1.1"/><ellipse cx="615.8" cy="747" rx="19.8" ry="10.3" fill="#fff" stroke="#111" stroke-width="1.4"/><path d="M601 754 Q616 742 633 752" fill="none" stroke="#111" stroke-width="1.1"/><g fill="#333"><ellipse cx="640.9" cy="749.3" rx="1.1" ry="0.9"/><ellipse cx="637.0" cy="754.3" rx="1.1" ry="0.9"/><ellipse cx="629.9" cy="758.1" rx="1.1" ry="0.9"/><ellipse cx="620.7" cy="760.1" rx="1.1" ry="0.9"/><ellipse cx="610.7" cy="760.1" rx="1.1" ry="0.9"/><ellipse cx="601.5" cy="758.0" rx="1.1" ry="0.9"/><ellipse cx="594.5" cy="754.2" rx="1.1" ry="0.9"/><ellipse cx="590.7" cy="749.2" rx="1.1" ry="0.9"/><ellipse cx="590.7" cy="743.7" rx="1.1" ry="0.9"/><ellipse cx="594.6" cy="738.7" rx="1.1" ry="0.9"/><ellipse cx="601.7" cy="734.9" rx="1.1" ry="0.9"/><ellipse cx="610.9" cy="732.9" rx="1.1" ry="0.9"/><ellipse cx="620.9" cy="732.9" rx="1.1" ry="0.9"/><ellipse cx="630.1" cy="735.0" rx="1.1" ry="0.9"/><ellipse cx="637.1" cy="738.8" rx="1.1" ry="0.9"/><ellipse cx="640.9" cy="743.8" rx="1.1" ry="0.9"/><ellipse cx="639.8" cy="816.7" rx="1.1" ry="0.9"/><ellipse cx="634.2" cy="819.8" rx="1.1" ry="0.9"/><ellipse cx="625.7" cy="821.9" rx="1.1" ry="0.9"/><ellipse cx="615.8" cy="822.6" rx="1.1" ry="0.9"/><ellipse cx="605.9" cy="821.9" rx="1.1" ry="0.9"/><ellipse cx="597.4" cy="819.8" rx="1.1" ry="0.9"/><ellipse cx="591.8" cy="816.7" rx="1.1" ry="0.9"/></g>
<g><path d="M1589.5 1287 L1589.5 1309 A13.0 4.81 0 0 0 1615.5 1309 L1615.5 1287Z" fill="url(#g24)" stroke="#111" stroke-width="1.1"/><ellipse cx="1602.5" cy="1292.5" rx="18.6" ry="6.3" fill="#eee" stroke="#111" stroke-width="1.1"/><ellipse cx="1602.5" cy="1289.5" rx="18.6" ry="6.3" fill="#f6f6f6" stroke="#111" stroke-width="1.1"/><ellipse cx="1602.5" cy="1287" rx="18.6" ry="6.3" fill="#fff" stroke="#111" stroke-width="1.1"/><path d="M1590.5 1259 L1590.5 1287 A12.0 4.81 0 0 0 1614.5 1287 L1614.5 1259Z" fill="url(#g24)" stroke="#111" stroke-width="1.1"/><path d="M1590.5 1268.8 A12.0 4.81 0 0 0 1614.5 1268.8" fill="none" stroke="#111" stroke-width="1.1"/><path d="M1590.5 1272.7 A12.0 4.81 0 0 0 1614.5 1272.7" fill="none" stroke="#111" stroke-width="1.1"/><path d="M1590.5 1279.2 A12.0 4.81 0 0 0 1614.5 1279.2" fill="none" stroke="#111" stroke-width="1.1"/><path d="M1614.5 1264.9 l3 -0.5 l0 3.5 l-3 1" fill="#fff" stroke="#111" stroke-width="1.1"/><path d="M1589.5 1151 L1589.5 1261 A13.0 4.81 0 0 0 1615.5 1261 L1615.5 1151Z" fill="url(#g24)" stroke="#111" stroke-width="1.1"/><ellipse cx="1602.5" cy="1151" rx="13.0" ry="4.8" fill="#fafafa" stroke="#111" stroke-width="1.1"/><path d="M1603.8 1165.4 L1613.8 1175.4 L1603.8 1185.4 L1593.8 1175.4Z" fill="#000"/><path d="M1601.6 1201 L1611.6 1211 L1601.6 1221 L1591.6 1211Z" fill="#000"/><path d="M1603.8 1234 L1613.8 1244 L1603.8 1254 L1593.8 1244Z" fill="#000"/></g>
<g><path d="M1675.5 1394 L1675.5 1424 A16.0 5.92 0 0 0 1707.5 1424 L1707.5 1394Z" fill="url(#g25)" stroke="#111" stroke-width="1.1"/><ellipse cx="1691.5" cy="1399.5" rx="22.9" ry="7.8" fill="#eee" stroke="#111" stroke-width="1.1"/><ellipse cx="1691.5" cy="1396.5" rx="22.9" ry="7.8" fill="#f6f6f6" stroke="#111" stroke-width="1.1"/><ellipse cx="1691.5" cy="1394" rx="22.9" ry="7.8" fill="#fff" stroke="#111" stroke-width="1.1"/><path d="M1676.5 1366 L1676.5 1394 A15.0 5.92 0 0 0 1706.5 1394 L1706.5 1366Z" fill="url(#g25)" stroke="#111" stroke-width="1.1"/><path d="M1676.5 1375.8 A15.0 5.92 0 0 0 1706.5 1375.8" fill="none" stroke="#111" stroke-width="1.1"/><path d="M1676.5 1379.7 A15.0 5.92 0 0 0 1706.5 1379.7" fill="none" stroke="#111" stroke-width="1.1"/><path d="M1676.5 1386.2 A15.0 5.92 0 0 0 1706.5 1386.2" fill="none" stroke="#111" stroke-width="1.1"/><path d="M1706.5 1371.9 l3 -0.5 l0 3.5 l-3 1" fill="#fff" stroke="#111" stroke-width="1.1"/><path d="M1675.5 1295 L1675.5 1368 A16.0 5.92 0 0 0 1707.5 1368 L1707.5 1295Z" fill="url(#g25)" stroke="#111" stroke-width="1.1"/><ellipse cx="1691.5" cy="1295" rx="16.0" ry="5.9" fill="#fafafa" stroke="#111" stroke-width="1.1"/><path d="M1686.7 1305.2 L1697.2 1315.7 L1686.7 1326.2 L1676.2 1315.7Z" fill="#000"/><path d="M1696.3 1330.7 L1706.8 1341.2 L1696.3 1351.7 L1685.8 1341.2Z" fill="#000"/><path d="M1686.7 1349.8 L1697.2 1360.3 L1686.7 1370.8 L1676.2 1360.3Z" fill="#000"/></g>
<path fill="none" stroke="#111" stroke-width="1.35" stroke-linejoin="miter" d="M1499.6 771.6 L1041 518.2 L822 638.5 L817.9 641.3 L812.5 639 L795.4 662 L840 654 L833.3 648.3 L1041 534.7 L1488.6 781.6"/>
<path fill="none" stroke="#111" stroke-width="1.35" stroke-linejoin="miter" d="M1552.7 801.5 L2299.5 1213.9 L2306.7 1210.9 L2319.9 1233.2 L2278.8 1225.3 L2285.1 1221.1 L2114.1 1127.5 L1830 1292.7 L1822.8 1288 L1785.5 1301.4 L1802.7 1278.3 L1807.3 1280.8 L2100.6 1119.8 L1542.4 811.2"/>
<path fill="none" stroke="#111" stroke-width="1.35" stroke-linejoin="miter" d="M1728 541 L1728 206 A52 52 0 0 1 1780 154.5" />
<path fill="none" stroke="#bbb" stroke-width="1.3" d="M1780 154.5 L2711 154.5"/>
<path fill="none" stroke="#111" stroke-width="1.35" stroke-linejoin="miter" d="M2711 154.5 A52 52 0 0 1 2763 206.5 L2763 765.5 A52 52 0 0 1 2711 817.5 L1780 817.5 A52 52 0 0 1 1728 765.5 L1728 629 L1198 1102 L1728 541"/>
<g clip-path="url(#insetclip)"><path d="M2000 190 L2420 190 L2760 330 L2760 640 L2380 430 Z" fill="#e4e4e4" filter="url(#blur30)" opacity="0.55"/></g>
<path d="M1896.4 352 L2597 696 L2612.7 688 L2612.7 754.7 L1896.4 405.6Z" fill="url(#g26)" stroke="#111" stroke-width="1.2"/>
<path d="M2612.7 682 L2717.5 624.5 L2717.5 693.8 L2612.7 754.7Z" fill="url(#g27)" stroke="#111" stroke-width="1.2"/>
<path d="M2235 512.6 C2242 522 2238 530 2246 540 C2252 548 2249 556 2252.7 570.5" fill="none" stroke="#222" stroke-width="0.9"/>
<path transform="translate(2259.6,573.0) scale(1.0)" d="M0 0 L5.8 -3.5 L42.9 17 C45.5 18 46.8 16 47.2 13 L48.3 5.4 L45.5 6.5 L53.2 -7.6 L58.5 1.4 L55.8 1.8 L54 11 C52.5 19 48 22.5 42.9 20.6 L6.3 2.3Z" fill="#fff" stroke="#111" stroke-width="1"/>
<path transform="translate(2376.2,626.1) scale(1.0)" d="M0 0 L5.8 -3.5 L42.9 17 C45.5 18 46.8 16 47.2 13 L48.3 5.4 L45.5 6.5 L53.2 -7.6 L58.5 1.4 L55.8 1.8 L54 11 C52.5 19 48 22.5 42.9 20.6 L6.3 2.3Z" fill="#fff" stroke="#111" stroke-width="1"/>
<path transform="translate(2492.7999999999997,679.2) scale(1.0)" d="M0 0 L5.8 -3.5 L42.9 17 C45.5 18 46.8 16 47.2 13 L48.3 5.4 L45.5 6.5 L53.2 -7.6 L58.5 1.4 L55.8 1.8 L54 11 C52.5 19 48 22.5 42.9 20.6 L6.3 2.3Z" fill="#fff" stroke="#111" stroke-width="1"/>
<path transform="translate(2629.6,672) scale(0.72)" d="M0 0 L5.8 -3.5 L42.9 17 C45.5 18 46.8 16 47.2 13 L48.3 5.4 L45.5 6.5 L53.2 -7.6 L58.5 1.4 L55.8 1.8 L54 11 C52.5 19 48 22.5 42.9 20.6 L6.3 2.3Z" fill="#fff" stroke="#111" stroke-width="1"/>
<path transform="translate(2661.8,653.5) scale(0.72)" d="M0 0 L5.8 -3.5 L42.9 17 C45.5 18 46.8 16 47.2 13 L48.3 5.4 L45.5 6.5 L53.2 -7.6 L58.5 1.4 L55.8 1.8 L54 11 C52.5 19 48 22.5 42.9 20.6 L6.3 2.3Z" fill="#fff" stroke="#111" stroke-width="1"/>
<path d="M1875.5 331.7 L2236.5 508.6 L2236.5 524.3 L1875.5 347.4Z" fill="#fff" stroke="#111" stroke-width="1.2"/>
<path d="M1877 338 L2236.5 514.6 M1879 340.3 L2236.5 516.6 M1877 344 L2236.5 520.5" fill="none" stroke="#222" stroke-width="0.8"/>
<path d="M1875.5 331.7 L1888.5 322.4 L1896.4 320.6 L2257.5 497.6 L2236.5 508.6Z" fill="url(#g28)" stroke="#111" stroke-width="1.2"/>
<path d="M2237.9 511.9 L2594.1 695.5 L2594.1 703.5 L2237.9 520Z" fill="#fff" stroke="#111" stroke-width="1.2"/>
<path d="M2237.9 515 L2594.1 698.5 M2237.9 517.5 L2594.1 701" fill="none" stroke="#222" stroke-width="0.8"/>
<path d="M2237.9 511.9 L2257.5 498.6 L2612.7 673.6 L2594.1 695.5Z" fill="url(#g29)" stroke="#111" stroke-width="1.2"/>
<path d="M2594.1 695.5 L2612.7 673.6 L2612.7 682 L2594.1 703.5Z" fill="#eee" stroke="#111" stroke-width="1.2"/>
<path d="M2364.2 441 L2377.5 431.2 L2732.7 606 L2732.7 613 L2717.5 624.5 Z" fill="url(#g30)" stroke="#111" stroke-width="1.2"/>
<ellipse cx="2295.2" cy="532.6" rx="5.4" ry="3.2" fill="#fff" stroke="#111" stroke-width="1"/>
<ellipse cx="2416.6" cy="459.8" rx="5.4" ry="3.2" fill="#fff" stroke="#111" stroke-width="1"/>
<ellipse cx="2352.6" cy="560.5" rx="5.4" ry="3.2" fill="#fff" stroke="#111" stroke-width="1"/>
<ellipse cx="2474.2" cy="487.9" rx="5.4" ry="3.2" fill="#fff" stroke="#111" stroke-width="1"/>
<ellipse cx="2410.0" cy="588.4" rx="5.4" ry="3.2" fill="#fff" stroke="#111" stroke-width="1"/>
<ellipse cx="2531.8" cy="516.0" rx="5.4" ry="3.2" fill="#fff" stroke="#111" stroke-width="1"/>
<ellipse cx="2467.4" cy="616.3" rx="5.4" ry="3.2" fill="#fff" stroke="#111" stroke-width="1"/>
<ellipse cx="2589.4" cy="544.1" rx="5.4" ry="3.2" fill="#fff" stroke="#111" stroke-width="1"/>
<ellipse cx="2524.8" cy="644.2" rx="5.4" ry="3.2" fill="#fff" stroke="#111" stroke-width="1"/>
<ellipse cx="2647.0" cy="572.2" rx="5.4" ry="3.2" fill="#fff" stroke="#111" stroke-width="1"/>
<ellipse cx="2582.2" cy="672.1" rx="5.4" ry="3.2" fill="#fff" stroke="#111" stroke-width="1"/>
<ellipse cx="2704.6" cy="600.3" rx="5.4" ry="3.2" fill="#fff" stroke="#111" stroke-width="1"/>
<path d="M2257.5 436.8 C2280 424 2295 410 2306.6 405.2 C2330 392 2345 382 2361.4 373 L2361.4 441 L2712 611 C2700 626 2690 628 2680 632 C2660 640 2650 642 2643 648 C2632 660 2620 668 2607.6 671.5 L2257.5 498.6Z" fill="#fff" stroke="#111" stroke-width="1.2"/>
<path d="M2257.5 436.8 C2280 424 2295 410 2306.6 405.2 C2330 392 2345 382 2361.4 373 L2361.4 441 L2712 611 C2700 626 2690 628 2680 632 C2660 640 2650 642 2643 648 C2632 660 2620 668 2607.6 671.5 L2257.5 498.6Z" fill="url(#matdots)"/>
<g clip-path="url(#matclip)" stroke="#222" stroke-width="1.1" stroke-dasharray="1.2 3" fill="none"><path d="M2289.8 421.4 L2720 632"/><path d="M2262 472 L2640 657"/></g>
<path d="M2607.6 673 C2620 668 2632 660 2643 648.5 C2650 642.5 2662 640 2682 632.5 C2665 643 2655 646 2648 652 C2638 662 2625 670 2607.6 673Z" fill="#777" stroke="#111" stroke-width="1"/>
<path d="M2299.6 411.6 C2320 398 2345 382 2361.4 373 L2361.4 441Z" fill="#fff"/>
<path d="M2299.6 411.6 L2361.4 441 M2361.4 373 L2361.4 456.5" fill="none" stroke="#111" stroke-width="1.1"/>
<path d="M2361.4 427 L2375 421 L2377.5 431.2 L2364.2 441 L2361.4 441Z" fill="#fff" stroke="#111" stroke-width="1.2"/>
<g transform="translate(2364,424.5)"><path d="M-5.6 0 L-5.6 3.4 A5.6 3.2 0 0 0 5.6 3.4 L5.6 0Z" fill="#fff" stroke="#111" stroke-width="1"/><ellipse cx="0" cy="0" rx="5.6" ry="3.4" fill="#fff" stroke="#111" stroke-width="1"/><path d="M-2.4 1.2 L-2.4 5.6 M2.6 1.2 L2.6 5.6" stroke="#111" stroke-width="0.8"/><ellipse cx="0" cy="-0.4" rx="3.6" ry="2" fill="none" stroke="#111" stroke-width="0.8"/></g>
<path d="M1896.4 256.8 L2000.9 196.3 L2361.4 373 C2345 382 2330 392 2306.6 405.2 C2295 410 2280 424 2257.5 436.8Z" fill="url(#g31)" stroke="#111" stroke-width="1.2"/>
<path d="M1896.4 256.8 L2257.5 436.8 L2257.5 497.6 L1896.4 320.6Z" fill="url(#g32)" stroke="#111" stroke-width="1.2"/>
<g transform="translate(1892.2,327.5)"><path d="M-5.6 0 L-5.6 3.4 A5.6 3.2 0 0 0 5.6 3.4 L5.6 0Z" fill="#fff" stroke="#111" stroke-width="1"/><ellipse cx="0" cy="0" rx="5.6" ry="3.4" fill="#fff" stroke="#111" stroke-width="1"/><path d="M-2.4 1.2 L-2.4 5.6 M2.6 1.2 L2.6 5.6" stroke="#111" stroke-width="0.8"/><ellipse cx="0" cy="-0.4" rx="3.6" ry="2" fill="none" stroke="#111" stroke-width="0.8"/></g>
<g transform="translate(1949.5,355.3)"><path d="M-5.6 0 L-5.6 3.4 A5.6 3.2 0 0 0 5.6 3.4 L5.6 0Z" fill="#fff" stroke="#111" stroke-width="1"/><ellipse cx="0" cy="0" rx="5.6" ry="3.4" fill="#fff" stroke="#111" stroke-width="1"/><path d="M-2.4 1.2 L-2.4 5.6 M2.6 1.2 L2.6 5.6" stroke="#111" stroke-width="0.8"/><ellipse cx="0" cy="-0.4" rx="3.6" ry="2" fill="none" stroke="#111" stroke-width="0.8"/></g>
<g transform="translate(2006.8,383.1)"><path d="M-5.6 0 L-5.6 3.4 A5.6 3.2 0 0 0 5.6 3.4 L5.6 0Z" fill="#fff" stroke="#111" stroke-width="1"/><ellipse cx="0" cy="0" rx="5.6" ry="3.4" fill="#fff" stroke="#111" stroke-width="1"/><path d="M-2.4 1.2 L-2.4 5.6 M2.6 1.2 L2.6 5.6" stroke="#111" stroke-width="0.8"/><ellipse cx="0" cy="-0.4" rx="3.6" ry="2" fill="none" stroke="#111" stroke-width="0.8"/></g>
<g transform="translate(2064.1,410.9)"><path d="M-5.6 0 L-5.6 3.4 A5.6 3.2 0 0 0 5.6 3.4 L5.6 0Z" fill="#fff" stroke="#111" stroke-width="1"/><ellipse cx="0" cy="0" rx="5.6" ry="3.4" fill="#fff" stroke="#111" stroke-width="1"/><path d="M-2.4 1.2 L-2.4 5.6 M2.6 1.2 L2.6 5.6" stroke="#111" stroke-width="0.8"/><ellipse cx="0" cy="-0.4" rx="3.6" ry="2" fill="none" stroke="#111" stroke-width="0.8"/></g>
<g transform="translate(2121.4,438.7)"><path d="M-5.6 0 L-5.6 3.4 A5.6 3.2 0 0 0 5.6 3.4 L5.6 0Z" fill="#fff" stroke="#111" stroke-width="1"/><ellipse cx="0" cy="0" rx="5.6" ry="3.4" fill="#fff" stroke="#111" stroke-width="1"/><path d="M-2.4 1.2 L-2.4 5.6 M2.6 1.2 L2.6 5.6" stroke="#111" stroke-width="0.8"/><ellipse cx="0" cy="-0.4" rx="3.6" ry="2" fill="none" stroke="#111" stroke-width="0.8"/></g>
<g transform="translate(2178.7,466.5)"><path d="M-5.6 0 L-5.6 3.4 A5.6 3.2 0 0 0 5.6 3.4 L5.6 0Z" fill="#fff" stroke="#111" stroke-width="1"/><ellipse cx="0" cy="0" rx="5.6" ry="3.4" fill="#fff" stroke="#111" stroke-width="1"/><path d="M-2.4 1.2 L-2.4 5.6 M2.6 1.2 L2.6 5.6" stroke="#111" stroke-width="0.8"/><ellipse cx="0" cy="-0.4" rx="3.6" ry="2" fill="none" stroke="#111" stroke-width="0.8"/></g>
<g transform="translate(2237.3,495.5)"><path d="M-5.6 0 L-5.6 3.4 A5.6 3.2 0 0 0 5.6 3.4 L5.6 0Z" fill="#fff" stroke="#111" stroke-width="1"/><ellipse cx="0" cy="0" rx="5.6" ry="3.4" fill="#fff" stroke="#111" stroke-width="1"/><path d="M-2.4 1.2 L-2.4 5.6 M2.6 1.2 L2.6 5.6" stroke="#111" stroke-width="0.8"/><ellipse cx="0" cy="-0.4" rx="3.6" ry="2" fill="none" stroke="#111" stroke-width="0.8"/></g>
<g stroke="#000" stroke-linecap="round"><path d="M2307 441.4 L2307.6 428.0" stroke-width="2.5"/><path d="M2305.8 428.5 L2307.8 423.5 L2309.2 428.5Z" fill="#000" stroke-width="0.3"/><path d="M2314.5 446.3 L2315.1 431.0" stroke-width="2.5"/><path d="M2313.3 431.5 L2315.3 426.5 L2316.7 431.5Z" fill="#000" stroke-width="0.3"/><path d="M2329 445.2 L2329.6 431.0" stroke-width="2.5"/><path d="M2327.8 431.5 L2329.8 426.5 L2331.2 431.5Z" fill="#000" stroke-width="0.3"/><path d="M2338.5 460.6 L2339.1 445.0" stroke-width="2.5"/><path d="M2337.3 445.5 L2339.3 440.5 L2340.7 445.5Z" fill="#000" stroke-width="0.3"/><path d="M2355 458.8 L2355.6 443.0" stroke-width="2.5"/><path d="M2353.8 443.5 L2355.8 438.5 L2357.2 443.5Z" fill="#000" stroke-width="0.3"/><path d="M2361.5 467.4 L2362.1 455.0" stroke-width="2.5"/><path d="M2360.3 455.5 L2362.3 450.5 L2363.7 455.5Z" fill="#000" stroke-width="0.3"/><path d="M2289.5 459.1 L2290.1 447.0" stroke-width="2.5"/><path d="M2288.3 447.5 L2290.3 442.5 L2291.7 447.5Z" fill="#000" stroke-width="0.3"/><path d="M2277.5 481.0 L2278.1 464.0" stroke-width="2.5"/><path d="M2276.3 464.5 L2278.3 459.5 L2279.7 464.5Z" fill="#000" stroke-width="0.3"/><path d="M2291.5 484.6 L2292.1 471.0" stroke-width="2.5"/><path d="M2290.3 471.5 L2292.3 466.5 L2293.7 471.5Z" fill="#000" stroke-width="0.3"/><path d="M2306.5 481.4 L2307.1 468.0" stroke-width="2.5"/><path d="M2305.3 468.5 L2307.3 463.5 L2308.7 468.5Z" fill="#000" stroke-width="0.3"/><path d="M2335 479.0 L2335.6 461.0" stroke-width="2.5"/><path d="M2333.8 461.5 L2335.8 456.5 L2337.2 461.5Z" fill="#000" stroke-width="0.3"/><path d="M2376 472.8 L2376.6 458.0" stroke-width="2.5"/><path d="M2374.8 458.5 L2376.8 453.5 L2378.2 458.5Z" fill="#000" stroke-width="0.3"/><path d="M2391 487.0 L2391.6 470.0" stroke-width="2.5"/><path d="M2389.8 470.5 L2391.8 465.5 L2393.2 470.5Z" fill="#000" stroke-width="0.3"/><path d="M2404 484.9 L2404.6 470.0" stroke-width="2.5"/><path d="M2402.8 470.5 L2404.8 465.5 L2406.2 470.5Z" fill="#000" stroke-width="0.3"/><path d="M2417.5 495.8 L2418.1 480.0" stroke-width="2.5"/><path d="M2416.3 480.5 L2418.3 475.5 L2419.7 480.5Z" fill="#000" stroke-width="0.3"/><path d="M2431 495.9 L2431.6 483.0" stroke-width="2.5"/><path d="M2429.8 483.5 L2431.8 478.5 L2433.2 483.5Z" fill="#000" stroke-width="0.3"/><path d="M2263.5 508.8 L2264.1 493.0" stroke-width="2.5"/><path d="M2262.3 493.5 L2264.3 488.5 L2265.7 493.5Z" fill="#000" stroke-width="0.3"/><path d="M2275 518.2 L2275.6 501.0" stroke-width="2.5"/><path d="M2273.8 501.5 L2275.8 496.5 L2277.2 501.5Z" fill="#000" stroke-width="0.3"/><path d="M2291 521.1 L2291.6 506.0" stroke-width="2.5"/><path d="M2289.8 506.5 L2291.8 501.5 L2293.2 506.5Z" fill="#000" stroke-width="0.3"/><path d="M2309 529.4 L2309.6 513.0" stroke-width="2.5"/><path d="M2307.8 513.5 L2309.8 508.5 L2311.2 513.5Z" fill="#000" stroke-width="0.3"/><path d="M2316 541.0 L2316.6 525.0" stroke-width="2.5"/><path d="M2314.8 525.5 L2316.8 520.5 L2318.2 525.5Z" fill="#000" stroke-width="0.3"/><path d="M2332 535.4 L2332.6 523.0" stroke-width="2.5"/><path d="M2330.8 523.5 L2332.8 518.5 L2334.2 523.5Z" fill="#000" stroke-width="0.3"/><path d="M2347.5 555.5 L2348.1 539.0" stroke-width="2.5"/><path d="M2346.3 539.5 L2348.3 534.5 L2349.7 539.5Z" fill="#000" stroke-width="0.3"/><path d="M2368.5 557.5 L2369.1 542.0" stroke-width="2.5"/><path d="M2367.3 542.5 L2369.3 537.5 L2370.7 542.5Z" fill="#000" stroke-width="0.3"/><path d="M2325 501.8 L2325.6 488.0" stroke-width="2.5"/><path d="M2323.8 488.5 L2325.8 483.5 L2327.2 488.5Z" fill="#000" stroke-width="0.3"/><path d="M2354 505.2 L2354.6 493.0" stroke-width="2.5"/><path d="M2352.8 493.5 L2354.8 488.5 L2356.2 493.5Z" fill="#000" stroke-width="0.3"/><path d="M2383 532.2 L2383.6 515.0" stroke-width="2.5"/><path d="M2381.8 515.5 L2383.8 510.5 L2385.2 515.5Z" fill="#000" stroke-width="0.3"/><path d="M2393.5 515.8 L2394.1 501.0" stroke-width="2.5"/><path d="M2392.3 501.5 L2394.3 496.5 L2395.7 501.5Z" fill="#000" stroke-width="0.3"/><path d="M2427 547.3 L2427.6 531.0" stroke-width="2.5"/><path d="M2425.8 531.5 L2427.8 526.5 L2429.2 531.5Z" fill="#000" stroke-width="0.3"/><path d="M2430 560.3 L2430.6 543.0" stroke-width="2.5"/><path d="M2428.8 543.5 L2430.8 538.5 L2432.2 543.5Z" fill="#000" stroke-width="0.3"/><path d="M2395 569.3 L2395.6 553.0" stroke-width="2.5"/><path d="M2393.8 553.5 L2395.8 548.5 L2397.2 553.5Z" fill="#000" stroke-width="0.3"/><path d="M2413 580.5 L2413.6 563.0" stroke-width="2.5"/><path d="M2411.8 563.5 L2413.8 558.5 L2415.2 563.5Z" fill="#000" stroke-width="0.3"/><path d="M2450 509.4 L2450.6 495.0" stroke-width="2.5"/><path d="M2448.8 495.5 L2450.8 490.5 L2452.2 495.5Z" fill="#000" stroke-width="0.3"/><path d="M2469 521.8 L2469.6 505.0" stroke-width="2.5"/><path d="M2467.8 505.5 L2469.8 500.5 L2471.2 505.5Z" fill="#000" stroke-width="0.3"/><path d="M2492 531.7 L2492.6 517.0" stroke-width="2.5"/><path d="M2490.8 517.5 L2492.8 512.5 L2494.2 517.5Z" fill="#000" stroke-width="0.3"/><path d="M2500.5 540.6 L2501.1 523.0" stroke-width="2.5"/><path d="M2499.3 523.5 L2501.3 518.5 L2502.7 523.5Z" fill="#000" stroke-width="0.3"/><path d="M2514 545.3 L2514.6 528.0" stroke-width="2.5"/><path d="M2512.8 528.5 L2514.8 523.5 L2516.2 528.5Z" fill="#000" stroke-width="0.3"/><path d="M2460 560.6 L2460.6 548.0" stroke-width="2.5"/><path d="M2458.8 548.5 L2460.8 543.5 L2462.2 548.5Z" fill="#000" stroke-width="0.3"/><path d="M2489 575.8 L2489.6 563.0" stroke-width="2.5"/><path d="M2487.8 563.5 L2489.8 558.5 L2491.2 563.5Z" fill="#000" stroke-width="0.3"/><path d="M2513 591.3 L2513.6 578.0" stroke-width="2.5"/><path d="M2511.8 578.5 L2513.8 573.5 L2515.2 578.5Z" fill="#000" stroke-width="0.3"/><path d="M2476 600.8 L2476.6 583.0" stroke-width="2.5"/><path d="M2474.8 583.5 L2476.8 578.5 L2478.2 583.5Z" fill="#000" stroke-width="0.3"/><path d="M2512 613.6 L2512.6 599.0" stroke-width="2.5"/><path d="M2510.8 599.5 L2512.8 594.5 L2514.2 599.5Z" fill="#000" stroke-width="0.3"/><path d="M2528 618.8 L2528.6 603.0" stroke-width="2.5"/><path d="M2526.8 603.5 L2528.8 598.5 L2530.2 603.5Z" fill="#000" stroke-width="0.3"/><path d="M2547 626.8 L2547.6 613.0" stroke-width="2.5"/><path d="M2545.8 613.5 L2547.8 608.5 L2549.2 613.5Z" fill="#000" stroke-width="0.3"/><path d="M2572 640.0 L2572.6 625.0" stroke-width="2.5"/><path d="M2570.8 625.5 L2572.8 620.5 L2574.2 625.5Z" fill="#000" stroke-width="0.3"/><path d="M2593 650.3 L2593.6 636.0" stroke-width="2.5"/><path d="M2591.8 636.5 L2593.8 631.5 L2595.2 636.5Z" fill="#000" stroke-width="0.3"/><path d="M2610 662.1 L2610.6 648.0" stroke-width="2.5"/><path d="M2608.8 648.5 L2610.8 643.5 L2612.2 648.5Z" fill="#000" stroke-width="0.3"/><path d="M2537 556.5 L2537.6 541.0" stroke-width="2.5"/><path d="M2535.8 541.5 L2537.8 536.5 L2539.2 541.5Z" fill="#000" stroke-width="0.3"/><path d="M2557 566.5 L2557.6 551.0" stroke-width="2.5"/><path d="M2555.8 551.5 L2557.8 546.5 L2559.2 551.5Z" fill="#000" stroke-width="0.3"/><path d="M2583 568.4 L2583.6 551.0" stroke-width="2.5"/><path d="M2581.8 551.5 L2583.8 546.5 L2585.2 551.5Z" fill="#000" stroke-width="0.3"/><path d="M2603 572.1 L2603.6 556.0" stroke-width="2.5"/><path d="M2601.8 556.5 L2603.8 551.5 L2605.2 556.5Z" fill="#000" stroke-width="0.3"/><path d="M2618 580.6 L2618.6 563.0" stroke-width="2.5"/><path d="M2616.8 563.5 L2618.8 558.5 L2620.2 563.5Z" fill="#000" stroke-width="0.3"/><path d="M2642 590.1 L2642.6 573.0" stroke-width="2.5"/><path d="M2640.8 573.5 L2642.8 568.5 L2644.2 573.5Z" fill="#000" stroke-width="0.3"/><path d="M2662 604.9 L2662.6 587.0" stroke-width="2.5"/><path d="M2660.8 587.5 L2662.8 582.5 L2664.2 587.5Z" fill="#000" stroke-width="0.3"/><path d="M2680 609.0 L2680.6 593.0" stroke-width="2.5"/><path d="M2678.8 593.5 L2680.8 588.5 L2682.2 593.5Z" fill="#000" stroke-width="0.3"/><path d="M2700 616.0 L2700.6 603.0" stroke-width="2.5"/><path d="M2698.8 603.5 L2700.8 598.5 L2702.2 603.5Z" fill="#000" stroke-width="0.3"/><path d="M2525 580.2 L2525.6 563.0" stroke-width="2.5"/><path d="M2523.8 563.5 L2525.8 558.5 L2527.2 563.5Z" fill="#000" stroke-width="0.3"/><path d="M2553 595.8 L2553.6 578.0" stroke-width="2.5"/><path d="M2551.8 578.5 L2553.8 573.5 L2555.2 578.5Z" fill="#000" stroke-width="0.3"/><path d="M2606 605.4 L2606.6 588.0" stroke-width="2.5"/><path d="M2604.8 588.5 L2606.8 583.5 L2608.2 588.5Z" fill="#000" stroke-width="0.3"/><path d="M2619 618.4 L2619.6 603.0" stroke-width="2.5"/><path d="M2617.8 603.5 L2619.8 598.5 L2621.2 603.5Z" fill="#000" stroke-width="0.3"/><path d="M2640 629.3 L2640.6 613.0" stroke-width="2.5"/><path d="M2638.8 613.5 L2640.8 608.5 L2642.2 613.5Z" fill="#000" stroke-width="0.3"/><path d="M2563 606.3 L2563.6 593.0" stroke-width="2.5"/><path d="M2561.8 593.5 L2563.8 588.5 L2565.2 593.5Z" fill="#000" stroke-width="0.3"/><path d="M2545 650.0 L2545.6 633.0" stroke-width="2.5"/><path d="M2543.8 633.5 L2545.8 628.5 L2547.2 633.5Z" fill="#000" stroke-width="0.3"/><path d="M2525 636.4 L2525.6 621.0" stroke-width="2.5"/><path d="M2523.8 621.5 L2525.8 616.5 L2527.2 621.5Z" fill="#000" stroke-width="0.3"/></g>
<path transform="translate(2369.8,498.6) rotate(26.2)" d="M0 0 L-16 -8.0 L-14.5 -3.3 L-38 -3.3 L-38 3.3 L-14.5 3.3 L-16 8.0Z" fill="#000"/>
<path transform="translate(2484.3,553.0) rotate(26.2)" d="M0 0 L-16 -8.0 L-14.5 -3.3 L-38 -3.3 L-38 3.3 L-14.5 3.3 L-16 8.0Z" fill="#000"/>
<path transform="translate(2599.2,608.0) rotate(26.2)" d="M0 0 L-16 -8.0 L-14.5 -3.3 L-38 -3.3 L-38 3.3 L-14.5 3.3 L-16 8.0Z" fill="#000"/>
<path transform="translate(1892.3,274.9) rotate(25.5)" d="M0 0 L-15 -7.5 L-13.5 -3.2 L-37 -3.2 L-37 3.2 L-13.5 3.2 L-15 7.5Z" fill="#000"/>
<path transform="translate(1893.1,383.0) rotate(23.2)" d="M0 0 L-12 -6.0 L-12 -2.5 L-40.6 -2.5 L-40.6 2.5 L-12 2.5 L-12 6.0Z" fill="#fff" stroke="#111" stroke-width="1.1" stroke-linejoin="miter"/>
<path d="M2334.3 1260.8 L2395.9 1226.5 L2424.5 1241.8 L2361.2 1276.5Z" fill="url(#g33)" stroke="#111" stroke-width="1.2"/>
<path d="M2334.3 1260.8 L2361.2 1276.5 L2361.2 1365.7 L2334.3 1352Z" fill="url(#g34)" stroke="#111" stroke-width="1.2"/>
<path d="M2361.2 1276.5 L2424.5 1241.8 L2424.5 1330.6 L2361.2 1365.7Z" fill="url(#g35)" stroke="#111" stroke-width="1.2"/>
<path d="M2363.4 1277.8 L2363.4 1364.5 M2358.8 1275.2 L2358.8 1364.4" fill="none" stroke="#222" stroke-width="0.8"/>
<path d="M2370.4 1287 Q2370.4 1281.6 2375 1279.3 L2412.5 1260.6 Q2417.3 1258.2 2417.9 1263 L2420.4 1278.5 Q2420.4 1283.7 2416 1286 L2376 1305.6 Q2370.4 1308.2 2370.4 1302Z" fill="#fafafa" stroke="#111" stroke-width="1.3"/>
<path d="M2396 1283.5 L2400 1275.5 L2399.5 1281.5 L2403 1276.5 L2401 1284" fill="none" stroke="#111" stroke-width="0.9"/>
<g fill="#111"><circle cx="2377.6" cy="1322.4" r="0.95"/><circle cx="2382.7" cy="1319.8" r="0.95"/><circle cx="2387.8" cy="1317.2" r="0.95"/><circle cx="2392.9" cy="1314.5" r="0.95"/><circle cx="2398.0" cy="1311.9" r="0.95"/><circle cx="2403.1" cy="1309.3" r="0.95"/><circle cx="2408.2" cy="1306.7" r="0.95"/><circle cx="2413.3" cy="1304.1" r="0.95"/><circle cx="2377.6" cy="1326.8" r="0.95"/><circle cx="2382.7" cy="1324.2" r="0.95"/><circle cx="2387.8" cy="1321.6" r="0.95"/><circle cx="2392.9" cy="1318.9" r="0.95"/><circle cx="2398.0" cy="1316.3" r="0.95"/><circle cx="2403.1" cy="1313.7" r="0.95"/><circle cx="2408.2" cy="1311.1" r="0.95"/><circle cx="2413.3" cy="1308.5" r="0.95"/><circle cx="2377.6" cy="1331.2" r="0.95"/><circle cx="2382.7" cy="1328.6" r="0.95"/><circle cx="2387.8" cy="1326.0" r="0.95"/><circle cx="2392.9" cy="1323.3" r="0.95"/><circle cx="2398.0" cy="1320.7" r="0.95"/><circle cx="2403.1" cy="1318.1" r="0.95"/><circle cx="2408.2" cy="1315.5" r="0.95"/><circle cx="2413.3" cy="1312.9" r="0.95"/><circle cx="2377.6" cy="1335.6" r="0.95"/><circle cx="2382.7" cy="1333.0" r="0.95"/><circle cx="2387.8" cy="1330.4" r="0.95"/><circle cx="2392.9" cy="1327.7" r="0.95"/><circle cx="2398.0" cy="1325.1" r="0.95"/><circle cx="2403.1" cy="1322.5" r="0.95"/><circle cx="2408.2" cy="1319.9" r="0.95"/><circle cx="2413.3" cy="1317.3" r="0.95"/></g>
<path d="M2353.5 1285.5 L2358 1287.5 L2358 1290 M2353.5 1347.5 L2358 1349.5 L2358 1352" fill="none" stroke="#111" stroke-width="1.2"/>
<path d="M2447.3 1336.3 L2480.6 1340.8 L2474.5 1343.9 L2611.2 1414.7 L2616.3 1411.2 L2627.5 1428.6 L2593.9 1425.5 L2600 1422.4 L2465.3 1351 L2459.2 1353Z" fill="#fff" stroke="#111" stroke-width="1.3"/>
<path d="M2639.5 1469 L2665.3 1485.7 L2707 1464 L2707 1470 L2665.3 1492.5 L2639.5 1476Z" fill="#000"/>
<path d="M2641 1468.5 L2683 1448 L2706 1463 L2665.5 1484.2Z" fill="#fff" stroke="#000" stroke-width="1.4"/>
<ellipse cx="2671.5" cy="1472" rx="12" ry="5.4" fill="#fff" stroke="#000" stroke-width="1.6"/><ellipse cx="2671.5" cy="1471.5" rx="7" ry="3" fill="#000"/>
<path d="M2669 1458 L2669 1471 L2675 1471 L2675 1458Z" fill="#ddd" stroke="#000" stroke-width="1"/>
<path d="M2637.8 1434.7 L2679.6 1413.3 L2688.8 1450 L2646.9 1470.4Z" fill="url(#g36)" stroke="#000" stroke-width="3.6" stroke-linejoin="round"/>
<circle cx="2674" cy="1443" r="1.6" fill="#000"/>
<path d="M2658 1493.9 L2700 1473.5 L2715.3 1482.7 L2673.5 1506Z" fill="#000" stroke="#000" stroke-width="1.5" stroke-linejoin="round"/>
<path d="M2676 1500 l1.5 1 M2697 1488.5 l1.5 1" stroke="#fff" stroke-width="1"/>
<path d="M2692 1468 C2696 1462 2700 1470 2703 1466 C2706 1462 2712 1462 2715 1466" fill="none" stroke="#000" stroke-width="1.4"/><ellipse cx="2715" cy="1467" rx="2.4" ry="1.6" fill="#000"/>
<ellipse cx="181.9" cy="174.2" rx="47.5" ry="25.9" fill="none" stroke="#000" stroke-width="1.5"/>
<path d="M137.9 183.6 L214.3 154.1 L169.2 180Z" fill="#000" stroke="#000" stroke-width="1"/>
<path d="M169.2 180 L162.5 196.5 L214.3 154.1" fill="none" stroke="#000" stroke-width="1.3"/>
<text x="223" y="146" font-size="26" font-style="italic" fill="#000">N</text>
<text x="271.4" y="490.2" font-size="39.5" text-anchor="start" textLength="120.1" lengthAdjust="spacingAndGlyphs" fill="#000">气化装置</text>
<line x1="270" y1="497.9" x2="388.6" y2="497.9" stroke="#000" stroke-width="1.5"/>
<path d="M388.6 497.9 L486 510" fill="none" stroke="#000" stroke-width="3" stroke-linecap="round"/>
<text x="361.1" y="618.8" font-size="39.5" text-anchor="start" textLength="120.1" lengthAdjust="spacingAndGlyphs" fill="#000">振动气锤</text>
<line x1="359" y1="626.3" x2="478.6" y2="626.3" stroke="#000" stroke-width="1.5"/>
<path d="M478.6 626.3 L574.8 571" fill="none" stroke="#000" stroke-width="3" stroke-linecap="round"/>
<text x="697.5" y="587.8" font-size="39.5" text-anchor="start" textLength="150.1" lengthAdjust="spacingAndGlyphs" fill="#000">低位料位计</text>
<text x="809.5" y="734.8" font-size="39.5" text-anchor="start" textLength="150.1" lengthAdjust="spacingAndGlyphs" fill="#000">旋转供料器</text>
<line x1="805" y1="743" x2="961" y2="743" stroke="#000" stroke-width="1.5"/>
<path d="M805 743 L644 798.8" fill="none" stroke="#000" stroke-width="1.2" stroke-linecap="round"/>
<text x="456.6" y="860.8" font-size="39.5" text-anchor="middle" textLength="90.1" lengthAdjust="spacingAndGlyphs" fill="#000" transform="rotate(33.7 456.6 860.8)">空气进</text>
<text x="206.1" y="1152.1" font-size="39.5" text-anchor="start" textLength="60.0" lengthAdjust="spacingAndGlyphs" fill="#000">风机</text>
<text x="656.4" y="1280.4" font-size="39.5" text-anchor="start" textLength="120.1" lengthAdjust="spacingAndGlyphs" fill="#000">空气斜槽</text>
<line x1="657" y1="1285.4" x2="774" y2="1285.4" stroke="#000" stroke-width="1.5"/>
<path d="M774 1285.4 L990 1074.6" fill="none" stroke="#000" stroke-width="1.2" stroke-linecap="round"/>
<text x="1757.8" y="1102.6" font-size="39.5" text-anchor="start" textLength="120.1" lengthAdjust="spacingAndGlyphs" fill="#000">排气滤帽</text>
<line x1="1757.2" y1="1111.3" x2="1878" y2="1111.3" stroke="#000" stroke-width="2.5"/>
<path d="M1614.9 1167.9 L1757.2 1111.3 L1690.7 1289.2" fill="none" stroke="#000" stroke-width="2.6" stroke-linecap="round"/>
<text x="1777.9" y="1518.2" font-size="39.5" text-anchor="start" textLength="150.1" lengthAdjust="spacingAndGlyphs" fill="#000">高位料位计</text>
<line x1="1777.4" y1="1526.8" x2="1928.4" y2="1526.8" stroke="#000" stroke-width="2.5"/>
<text x="1758.5" y="1617.6" font-size="39.5" text-anchor="start" textLength="120.1" lengthAdjust="spacingAndGlyphs" fill="#000">振动气锤</text>
<line x1="1760" y1="1625.7" x2="1877" y2="1625.7" stroke="#000" stroke-width="1.5"/>
<path d="M1760 1625.7 L1582.8 1720" fill="none" stroke="#000" stroke-width="2.6" stroke-linecap="round"/>
<text x="1741.9" y="1700.4" font-size="39.5" text-anchor="start" textLength="120.1" lengthAdjust="spacingAndGlyphs" fill="#000">气化装置</text>
<line x1="1743" y1="1706.9" x2="1860" y2="1706.9" stroke="#000" stroke-width="1.5"/>
<path d="M1743 1706.9 L1688.4 1720" fill="none" stroke="#000" stroke-width="1.8" stroke-linecap="round"/>
<text x="1672.4" y="1785.2" font-size="39.5" text-anchor="start" textLength="150.1" lengthAdjust="spacingAndGlyphs" fill="#000">低位料位计</text>
<line x1="1671.8" y1="1794.6" x2="1822.9" y2="1794.6" stroke="#000" stroke-width="2.5"/>
<text x="2227.4" y="1405.1" font-size="37" text-anchor="start" textLength="253.8" lengthAdjust="spacingAndGlyphs" fill="#000">PLC可编程控制系统</text>
<line x1="2224.8" y1="1414.5" x2="2485.9" y2="1414.5" stroke="#000" stroke-width="2.5"/>
<text x="2545.3" y="1548.1" font-size="37.5" text-anchor="start" textLength="283.2" lengthAdjust="spacingAndGlyphs" fill="#000">工控计算机或DCS系统</text>
<line x1="2542.7" y1="1559.6" x2="2833.7" y2="1559.6" stroke="#000" stroke-width="2.5"/>
<text x="2562.2" y="364.4" font-size="39.5" text-anchor="start" textLength="60.0" lengthAdjust="spacingAndGlyphs" fill="#000">物料</text>
<line x1="2561.3" y1="375" x2="2622.9" y2="375" stroke="#000" stroke-width="1.5"/>
<path d="M2561.3 375 L2367.6 487.6" fill="none" stroke="#000" stroke-width="1.1" stroke-linecap="round"/>
<path d="M2561.3 375 L2472.4 543.4" fill="none" stroke="#000" stroke-width="1.1" stroke-linecap="round"/>
<path d="M2561.3 375 L2572.2 594.1" fill="none" stroke="#000" stroke-width="1.1" stroke-linecap="round"/>
<text x="1958.9" y="625.6" font-size="39.5" text-anchor="start" textLength="90.1" lengthAdjust="spacingAndGlyphs" fill="#000">气化板</text>
<line x1="1960" y1="634.1" x2="2048" y2="634.1" stroke="#000" stroke-width="1.5"/>
<path d="M2048 634.1 L2243.4 525.2" fill="none" stroke="#000" stroke-width="1.1" stroke-linecap="round"/>
<text x="2130.3" y="741.2" font-size="39.5" text-anchor="start" textLength="60.0" lengthAdjust="spacingAndGlyphs" fill="#000">空气</text>
<line x1="2129.7" y1="748.4" x2="2191.6" y2="748.4" stroke="#000" stroke-width="1.5"/>
<path d="M2191.6 748.4 L2289.9 590.7" fill="none" stroke="#000" stroke-width="1.1" stroke-linecap="round"/>
<path d="M2191.6 748.4 L2379.5 641.4" fill="none" stroke="#000" stroke-width="1.1" stroke-linecap="round"/>
<path d="M2191.6 748.4 L2518 698.9" fill="none" stroke="#000" stroke-width="1.1" stroke-linecap="round"/>
<text x="1809.9" y="247.3" font-size="39.5" text-anchor="middle" textLength="90.1" lengthAdjust="spacingAndGlyphs" fill="#000" transform="rotate(35 1809.9 247.3)">物料进</text>
<text x="1802.8" y="359.9" font-size="39.5" text-anchor="middle" textLength="90.1" lengthAdjust="spacingAndGlyphs" fill="#000" transform="rotate(32 1802.8 359.9)">空气进</text>
</svg>
</body></html>
